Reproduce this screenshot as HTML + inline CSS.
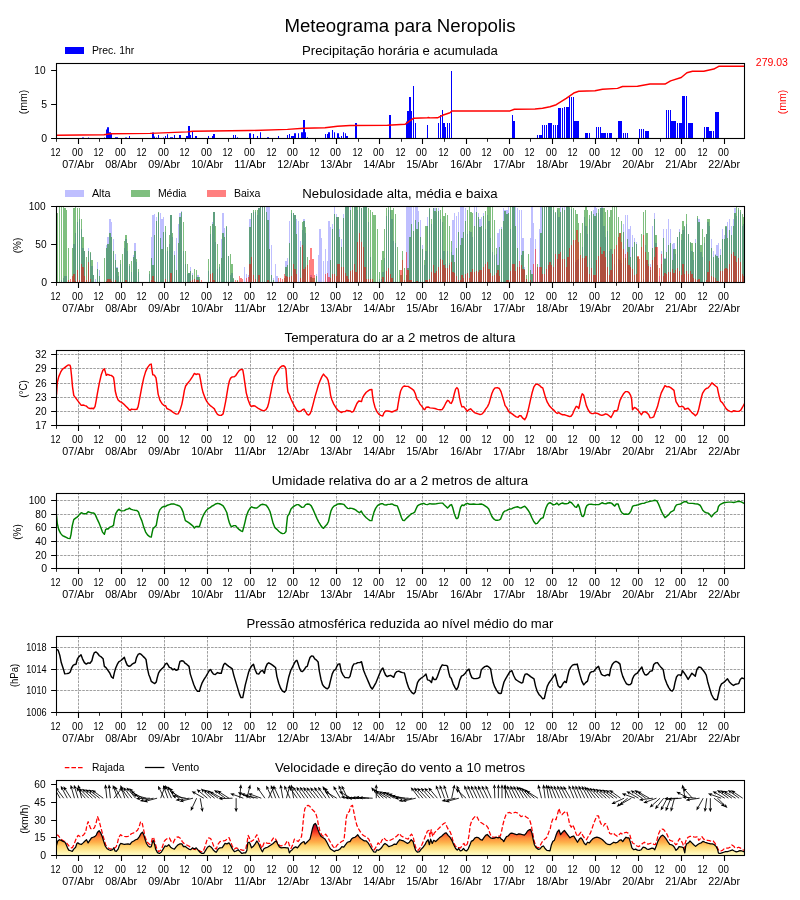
<!DOCTYPE html>
<html><head><meta charset="utf-8"><title>Meteograma para Neropolis</title>
<style>html,body{margin:0;padding:0;background:#fff}svg{display:block;will-change:transform}text{font-family:"Liberation Sans",sans-serif;white-space:pre}</style>
</head><body>
<svg width="800" height="900" viewBox="0 0 800 900">
<rect width="800" height="900" fill="#fff"/>
<defs>
<linearGradient id="wg" gradientUnits="userSpaceOnUse" x1="0" y1="855.5" x2="0" y2="820.6">
<stop offset="0" stop-color="#ffffcc"/>
<stop offset="0.125" stop-color="#ffeda0"/>
<stop offset="0.25" stop-color="#fed976"/>
<stop offset="0.375" stop-color="#feb24c"/>
<stop offset="0.5" stop-color="#fd8d3c"/>
<stop offset="0.625" stop-color="#fc4e2a"/>
<stop offset="0.75" stop-color="#e31a1c"/>
<stop offset="0.875" stop-color="#bd0026"/>
<stop offset="1" stop-color="#800026"/>
</linearGradient>
<clipPath id="c0"><rect x="56.5" y="63.5" width="688" height="75"/></clipPath>
<clipPath id="c1"><rect x="56.5" y="206.5" width="688" height="76"/></clipPath>
<clipPath id="c2"><rect x="56.5" y="350.5" width="688" height="75"/></clipPath>
<clipPath id="c3"><rect x="56.5" y="493.5" width="688" height="75"/></clipPath>
<clipPath id="c4"><rect x="56.5" y="636.5" width="688" height="76"/></clipPath>
<clipPath id="c5"><rect x="56.5" y="780.5" width="688" height="75"/></clipPath>
</defs>
<text x="284.41" y="31.6" font-size="17.5" fill="#000" textLength="231.18" lengthAdjust="spacingAndGlyphs">Meteograma para Neropolis</text>
<text x="302.1" y="54.5" font-size="12.24" fill="#000" textLength="195.77" lengthAdjust="spacingAndGlyphs">Precipitação horária e acumulada</text>
<text x="302.27" y="197.5" font-size="12.24" fill="#000" textLength="195.43" lengthAdjust="spacingAndGlyphs">Nebulosidade alta, média e baixa</text>
<text x="284.55" y="341.5" font-size="12.24" fill="#000" textLength="230.81" lengthAdjust="spacingAndGlyphs">Temperatura do ar a 2 metros de altura</text>
<text x="271.69" y="484.5" font-size="12.24" fill="#000" textLength="256.58" lengthAdjust="spacingAndGlyphs">Umidade relativa do ar a 2 metros de altura</text>
<text x="246.58" y="627.5" font-size="12.24" fill="#000" textLength="306.88" lengthAdjust="spacingAndGlyphs">Pressão atmosférica reduzida ao nível médio do mar</text>
<text x="274.95" y="771.5" font-size="12.24" fill="#000" textLength="250.11" lengthAdjust="spacingAndGlyphs">Velocidade e direção do vento a 10 metros</text>
<path d="M78.5 138.5v5.4M121.5 138.5v5.4M164.5 138.5v5.4M207.5 138.5v5.4M250.5 138.5v5.4M293.5 138.5v5.4M336.5 138.5v5.4M379.5 138.5v5.4M422.5 138.5v5.4M466.5 138.5v5.4M509.5 138.5v5.4M552.5 138.5v5.4M595.5 138.5v5.4M638.5 138.5v5.4M681.5 138.5v5.4M724.5 138.5v5.4" stroke="#000" stroke-width="1.1" fill="none"/>
<path d="M56.5 138.5v3.3M99.5 138.5v3.3M142.5 138.5v3.3M185.5 138.5v3.3M228.5 138.5v3.3M272.5 138.5v3.3M315.5 138.5v3.3M358.5 138.5v3.3M401.5 138.5v3.3M444.5 138.5v3.3M487.5 138.5v3.3M530.5 138.5v3.3M573.5 138.5v3.3M616.5 138.5v3.3M660.5 138.5v3.3M703.5 138.5v3.3" stroke="#000" stroke-width="0.85" fill="none"/>
<g>
<text x="50.47" y="155.9" font-size="10.22" fill="#000" textLength="10.06" lengthAdjust="spacingAndGlyphs">12</text>
<text x="71.97" y="155.9" font-size="10.22" fill="#000" textLength="10.85" lengthAdjust="spacingAndGlyphs">00</text>
<text x="62.35" y="167.8" font-size="10.12" fill="#000" textLength="31.7" lengthAdjust="spacingAndGlyphs">07/Abr</text>
<text x="93.47" y="155.9" font-size="10.22" fill="#000" textLength="10.06" lengthAdjust="spacingAndGlyphs">12</text>
<text x="114.97" y="155.9" font-size="10.22" fill="#000" textLength="10.85" lengthAdjust="spacingAndGlyphs">00</text>
<text x="105.35" y="167.8" font-size="10.12" fill="#000" textLength="31.7" lengthAdjust="spacingAndGlyphs">08/Abr</text>
<text x="136.47" y="155.9" font-size="10.22" fill="#000" textLength="10.06" lengthAdjust="spacingAndGlyphs">12</text>
<text x="157.97" y="155.9" font-size="10.22" fill="#000" textLength="10.85" lengthAdjust="spacingAndGlyphs">00</text>
<text x="148.35" y="167.8" font-size="10.12" fill="#000" textLength="31.7" lengthAdjust="spacingAndGlyphs">09/Abr</text>
<text x="179.47" y="155.9" font-size="10.22" fill="#000" textLength="10.06" lengthAdjust="spacingAndGlyphs">12</text>
<text x="200.97" y="155.9" font-size="10.22" fill="#000" textLength="10.85" lengthAdjust="spacingAndGlyphs">00</text>
<text x="191.35" y="167.8" font-size="10.12" fill="#000" textLength="31.7" lengthAdjust="spacingAndGlyphs">10/Abr</text>
<text x="222.47" y="155.9" font-size="10.22" fill="#000" textLength="10.06" lengthAdjust="spacingAndGlyphs">12</text>
<text x="243.97" y="155.9" font-size="10.22" fill="#000" textLength="10.85" lengthAdjust="spacingAndGlyphs">00</text>
<text x="234.35" y="167.8" font-size="10.12" fill="#000" textLength="31.71" lengthAdjust="spacingAndGlyphs">11/Abr</text>
<text x="266.47" y="155.9" font-size="10.22" fill="#000" textLength="10.06" lengthAdjust="spacingAndGlyphs">12</text>
<text x="286.97" y="155.9" font-size="10.22" fill="#000" textLength="10.85" lengthAdjust="spacingAndGlyphs">00</text>
<text x="277.35" y="167.8" font-size="10.12" fill="#000" textLength="31.7" lengthAdjust="spacingAndGlyphs">12/Abr</text>
<text x="309.47" y="155.9" font-size="10.22" fill="#000" textLength="10.06" lengthAdjust="spacingAndGlyphs">12</text>
<text x="329.97" y="155.9" font-size="10.22" fill="#000" textLength="10.85" lengthAdjust="spacingAndGlyphs">00</text>
<text x="320.35" y="167.8" font-size="10.12" fill="#000" textLength="31.7" lengthAdjust="spacingAndGlyphs">13/Abr</text>
<text x="352.47" y="155.9" font-size="10.22" fill="#000" textLength="10.06" lengthAdjust="spacingAndGlyphs">12</text>
<text x="372.97" y="155.9" font-size="10.22" fill="#000" textLength="10.85" lengthAdjust="spacingAndGlyphs">00</text>
<text x="363.35" y="167.8" font-size="10.12" fill="#000" textLength="31.7" lengthAdjust="spacingAndGlyphs">14/Abr</text>
<text x="395.47" y="155.9" font-size="10.22" fill="#000" textLength="10.06" lengthAdjust="spacingAndGlyphs">12</text>
<text x="415.97" y="155.9" font-size="10.22" fill="#000" textLength="10.85" lengthAdjust="spacingAndGlyphs">00</text>
<text x="406.35" y="167.8" font-size="10.12" fill="#000" textLength="31.7" lengthAdjust="spacingAndGlyphs">15/Abr</text>
<text x="438.47" y="155.9" font-size="10.22" fill="#000" textLength="10.06" lengthAdjust="spacingAndGlyphs">12</text>
<text x="459.97" y="155.9" font-size="10.22" fill="#000" textLength="10.85" lengthAdjust="spacingAndGlyphs">00</text>
<text x="450.35" y="167.8" font-size="10.12" fill="#000" textLength="31.7" lengthAdjust="spacingAndGlyphs">16/Abr</text>
<text x="481.47" y="155.9" font-size="10.22" fill="#000" textLength="10.06" lengthAdjust="spacingAndGlyphs">12</text>
<text x="502.97" y="155.9" font-size="10.22" fill="#000" textLength="10.85" lengthAdjust="spacingAndGlyphs">00</text>
<text x="493.35" y="167.8" font-size="10.12" fill="#000" textLength="31.7" lengthAdjust="spacingAndGlyphs">17/Abr</text>
<text x="524.47" y="155.9" font-size="10.22" fill="#000" textLength="10.06" lengthAdjust="spacingAndGlyphs">12</text>
<text x="545.97" y="155.9" font-size="10.22" fill="#000" textLength="10.85" lengthAdjust="spacingAndGlyphs">00</text>
<text x="536.35" y="167.8" font-size="10.12" fill="#000" textLength="31.7" lengthAdjust="spacingAndGlyphs">18/Abr</text>
<text x="567.47" y="155.9" font-size="10.22" fill="#000" textLength="10.06" lengthAdjust="spacingAndGlyphs">12</text>
<text x="588.97" y="155.9" font-size="10.22" fill="#000" textLength="10.85" lengthAdjust="spacingAndGlyphs">00</text>
<text x="579.35" y="167.8" font-size="10.12" fill="#000" textLength="31.7" lengthAdjust="spacingAndGlyphs">19/Abr</text>
<text x="610.47" y="155.9" font-size="10.22" fill="#000" textLength="10.06" lengthAdjust="spacingAndGlyphs">12</text>
<text x="631.97" y="155.9" font-size="10.22" fill="#000" textLength="10.85" lengthAdjust="spacingAndGlyphs">00</text>
<text x="622.35" y="167.8" font-size="10.12" fill="#000" textLength="31.7" lengthAdjust="spacingAndGlyphs">20/Abr</text>
<text x="654.47" y="155.9" font-size="10.22" fill="#000" textLength="10.06" lengthAdjust="spacingAndGlyphs">12</text>
<text x="674.97" y="155.9" font-size="10.22" fill="#000" textLength="10.85" lengthAdjust="spacingAndGlyphs">00</text>
<text x="665.35" y="167.8" font-size="10.12" fill="#000" textLength="31.7" lengthAdjust="spacingAndGlyphs">21/Abr</text>
<text x="697.47" y="155.9" font-size="10.22" fill="#000" textLength="10.06" lengthAdjust="spacingAndGlyphs">12</text>
<text x="717.97" y="155.9" font-size="10.22" fill="#000" textLength="10.85" lengthAdjust="spacingAndGlyphs">00</text>
<text x="708.35" y="167.8" font-size="10.12" fill="#000" textLength="31.7" lengthAdjust="spacingAndGlyphs">22/Abr</text>
</g>
<path d="M78.5 282.5v5.4M121.5 282.5v5.4M164.5 282.5v5.4M207.5 282.5v5.4M250.5 282.5v5.4M293.5 282.5v5.4M336.5 282.5v5.4M379.5 282.5v5.4M422.5 282.5v5.4M466.5 282.5v5.4M509.5 282.5v5.4M552.5 282.5v5.4M595.5 282.5v5.4M638.5 282.5v5.4M681.5 282.5v5.4M724.5 282.5v5.4" stroke="#000" stroke-width="1.1" fill="none"/>
<path d="M56.5 282.5v3.3M99.5 282.5v3.3M142.5 282.5v3.3M185.5 282.5v3.3M228.5 282.5v3.3M272.5 282.5v3.3M315.5 282.5v3.3M358.5 282.5v3.3M401.5 282.5v3.3M444.5 282.5v3.3M487.5 282.5v3.3M530.5 282.5v3.3M573.5 282.5v3.3M616.5 282.5v3.3M660.5 282.5v3.3M703.5 282.5v3.3" stroke="#000" stroke-width="0.85" fill="none"/>
<g>
<text x="50.47" y="299.9" font-size="10.22" fill="#000" textLength="10.06" lengthAdjust="spacingAndGlyphs">12</text>
<text x="71.97" y="299.9" font-size="10.22" fill="#000" textLength="10.85" lengthAdjust="spacingAndGlyphs">00</text>
<text x="62.35" y="311.8" font-size="10.12" fill="#000" textLength="31.7" lengthAdjust="spacingAndGlyphs">07/Abr</text>
<text x="93.47" y="299.9" font-size="10.22" fill="#000" textLength="10.06" lengthAdjust="spacingAndGlyphs">12</text>
<text x="114.97" y="299.9" font-size="10.22" fill="#000" textLength="10.85" lengthAdjust="spacingAndGlyphs">00</text>
<text x="105.35" y="311.8" font-size="10.12" fill="#000" textLength="31.7" lengthAdjust="spacingAndGlyphs">08/Abr</text>
<text x="136.47" y="299.9" font-size="10.22" fill="#000" textLength="10.06" lengthAdjust="spacingAndGlyphs">12</text>
<text x="157.97" y="299.9" font-size="10.22" fill="#000" textLength="10.85" lengthAdjust="spacingAndGlyphs">00</text>
<text x="148.35" y="311.8" font-size="10.12" fill="#000" textLength="31.7" lengthAdjust="spacingAndGlyphs">09/Abr</text>
<text x="179.47" y="299.9" font-size="10.22" fill="#000" textLength="10.06" lengthAdjust="spacingAndGlyphs">12</text>
<text x="200.97" y="299.9" font-size="10.22" fill="#000" textLength="10.85" lengthAdjust="spacingAndGlyphs">00</text>
<text x="191.35" y="311.8" font-size="10.12" fill="#000" textLength="31.7" lengthAdjust="spacingAndGlyphs">10/Abr</text>
<text x="222.47" y="299.9" font-size="10.22" fill="#000" textLength="10.06" lengthAdjust="spacingAndGlyphs">12</text>
<text x="243.97" y="299.9" font-size="10.22" fill="#000" textLength="10.85" lengthAdjust="spacingAndGlyphs">00</text>
<text x="234.35" y="311.8" font-size="10.12" fill="#000" textLength="31.71" lengthAdjust="spacingAndGlyphs">11/Abr</text>
<text x="266.47" y="299.9" font-size="10.22" fill="#000" textLength="10.06" lengthAdjust="spacingAndGlyphs">12</text>
<text x="286.97" y="299.9" font-size="10.22" fill="#000" textLength="10.85" lengthAdjust="spacingAndGlyphs">00</text>
<text x="277.35" y="311.8" font-size="10.12" fill="#000" textLength="31.7" lengthAdjust="spacingAndGlyphs">12/Abr</text>
<text x="309.47" y="299.9" font-size="10.22" fill="#000" textLength="10.06" lengthAdjust="spacingAndGlyphs">12</text>
<text x="329.97" y="299.9" font-size="10.22" fill="#000" textLength="10.85" lengthAdjust="spacingAndGlyphs">00</text>
<text x="320.35" y="311.8" font-size="10.12" fill="#000" textLength="31.7" lengthAdjust="spacingAndGlyphs">13/Abr</text>
<text x="352.47" y="299.9" font-size="10.22" fill="#000" textLength="10.06" lengthAdjust="spacingAndGlyphs">12</text>
<text x="372.97" y="299.9" font-size="10.22" fill="#000" textLength="10.85" lengthAdjust="spacingAndGlyphs">00</text>
<text x="363.35" y="311.8" font-size="10.12" fill="#000" textLength="31.7" lengthAdjust="spacingAndGlyphs">14/Abr</text>
<text x="395.47" y="299.9" font-size="10.22" fill="#000" textLength="10.06" lengthAdjust="spacingAndGlyphs">12</text>
<text x="415.97" y="299.9" font-size="10.22" fill="#000" textLength="10.85" lengthAdjust="spacingAndGlyphs">00</text>
<text x="406.35" y="311.8" font-size="10.12" fill="#000" textLength="31.7" lengthAdjust="spacingAndGlyphs">15/Abr</text>
<text x="438.47" y="299.9" font-size="10.22" fill="#000" textLength="10.06" lengthAdjust="spacingAndGlyphs">12</text>
<text x="459.97" y="299.9" font-size="10.22" fill="#000" textLength="10.85" lengthAdjust="spacingAndGlyphs">00</text>
<text x="450.35" y="311.8" font-size="10.12" fill="#000" textLength="31.7" lengthAdjust="spacingAndGlyphs">16/Abr</text>
<text x="481.47" y="299.9" font-size="10.22" fill="#000" textLength="10.06" lengthAdjust="spacingAndGlyphs">12</text>
<text x="502.97" y="299.9" font-size="10.22" fill="#000" textLength="10.85" lengthAdjust="spacingAndGlyphs">00</text>
<text x="493.35" y="311.8" font-size="10.12" fill="#000" textLength="31.7" lengthAdjust="spacingAndGlyphs">17/Abr</text>
<text x="524.47" y="299.9" font-size="10.22" fill="#000" textLength="10.06" lengthAdjust="spacingAndGlyphs">12</text>
<text x="545.97" y="299.9" font-size="10.22" fill="#000" textLength="10.85" lengthAdjust="spacingAndGlyphs">00</text>
<text x="536.35" y="311.8" font-size="10.12" fill="#000" textLength="31.7" lengthAdjust="spacingAndGlyphs">18/Abr</text>
<text x="567.47" y="299.9" font-size="10.22" fill="#000" textLength="10.06" lengthAdjust="spacingAndGlyphs">12</text>
<text x="588.97" y="299.9" font-size="10.22" fill="#000" textLength="10.85" lengthAdjust="spacingAndGlyphs">00</text>
<text x="579.35" y="311.8" font-size="10.12" fill="#000" textLength="31.7" lengthAdjust="spacingAndGlyphs">19/Abr</text>
<text x="610.47" y="299.9" font-size="10.22" fill="#000" textLength="10.06" lengthAdjust="spacingAndGlyphs">12</text>
<text x="631.97" y="299.9" font-size="10.22" fill="#000" textLength="10.85" lengthAdjust="spacingAndGlyphs">00</text>
<text x="622.35" y="311.8" font-size="10.12" fill="#000" textLength="31.7" lengthAdjust="spacingAndGlyphs">20/Abr</text>
<text x="654.47" y="299.9" font-size="10.22" fill="#000" textLength="10.06" lengthAdjust="spacingAndGlyphs">12</text>
<text x="674.97" y="299.9" font-size="10.22" fill="#000" textLength="10.85" lengthAdjust="spacingAndGlyphs">00</text>
<text x="665.35" y="311.8" font-size="10.12" fill="#000" textLength="31.7" lengthAdjust="spacingAndGlyphs">21/Abr</text>
<text x="697.47" y="299.9" font-size="10.22" fill="#000" textLength="10.06" lengthAdjust="spacingAndGlyphs">12</text>
<text x="717.97" y="299.9" font-size="10.22" fill="#000" textLength="10.85" lengthAdjust="spacingAndGlyphs">00</text>
<text x="708.35" y="311.8" font-size="10.12" fill="#000" textLength="31.7" lengthAdjust="spacingAndGlyphs">22/Abr</text>
</g>
<path d="M78.5 425.5v5.4M121.5 425.5v5.4M164.5 425.5v5.4M207.5 425.5v5.4M250.5 425.5v5.4M293.5 425.5v5.4M336.5 425.5v5.4M379.5 425.5v5.4M422.5 425.5v5.4M466.5 425.5v5.4M509.5 425.5v5.4M552.5 425.5v5.4M595.5 425.5v5.4M638.5 425.5v5.4M681.5 425.5v5.4M724.5 425.5v5.4" stroke="#000" stroke-width="1.1" fill="none"/>
<path d="M56.5 425.5v3.3M99.5 425.5v3.3M142.5 425.5v3.3M185.5 425.5v3.3M228.5 425.5v3.3M272.5 425.5v3.3M315.5 425.5v3.3M358.5 425.5v3.3M401.5 425.5v3.3M444.5 425.5v3.3M487.5 425.5v3.3M530.5 425.5v3.3M573.5 425.5v3.3M616.5 425.5v3.3M660.5 425.5v3.3M703.5 425.5v3.3" stroke="#000" stroke-width="0.85" fill="none"/>
<g>
<text x="50.47" y="442.9" font-size="10.22" fill="#000" textLength="10.06" lengthAdjust="spacingAndGlyphs">12</text>
<text x="71.97" y="442.9" font-size="10.22" fill="#000" textLength="10.85" lengthAdjust="spacingAndGlyphs">00</text>
<text x="62.35" y="454.8" font-size="10.12" fill="#000" textLength="31.7" lengthAdjust="spacingAndGlyphs">07/Abr</text>
<text x="93.47" y="442.9" font-size="10.22" fill="#000" textLength="10.06" lengthAdjust="spacingAndGlyphs">12</text>
<text x="114.97" y="442.9" font-size="10.22" fill="#000" textLength="10.85" lengthAdjust="spacingAndGlyphs">00</text>
<text x="105.35" y="454.8" font-size="10.12" fill="#000" textLength="31.7" lengthAdjust="spacingAndGlyphs">08/Abr</text>
<text x="136.47" y="442.9" font-size="10.22" fill="#000" textLength="10.06" lengthAdjust="spacingAndGlyphs">12</text>
<text x="157.97" y="442.9" font-size="10.22" fill="#000" textLength="10.85" lengthAdjust="spacingAndGlyphs">00</text>
<text x="148.35" y="454.8" font-size="10.12" fill="#000" textLength="31.7" lengthAdjust="spacingAndGlyphs">09/Abr</text>
<text x="179.47" y="442.9" font-size="10.22" fill="#000" textLength="10.06" lengthAdjust="spacingAndGlyphs">12</text>
<text x="200.97" y="442.9" font-size="10.22" fill="#000" textLength="10.85" lengthAdjust="spacingAndGlyphs">00</text>
<text x="191.35" y="454.8" font-size="10.12" fill="#000" textLength="31.7" lengthAdjust="spacingAndGlyphs">10/Abr</text>
<text x="222.47" y="442.9" font-size="10.22" fill="#000" textLength="10.06" lengthAdjust="spacingAndGlyphs">12</text>
<text x="243.97" y="442.9" font-size="10.22" fill="#000" textLength="10.85" lengthAdjust="spacingAndGlyphs">00</text>
<text x="234.35" y="454.8" font-size="10.12" fill="#000" textLength="31.71" lengthAdjust="spacingAndGlyphs">11/Abr</text>
<text x="266.47" y="442.9" font-size="10.22" fill="#000" textLength="10.06" lengthAdjust="spacingAndGlyphs">12</text>
<text x="286.97" y="442.9" font-size="10.22" fill="#000" textLength="10.85" lengthAdjust="spacingAndGlyphs">00</text>
<text x="277.35" y="454.8" font-size="10.12" fill="#000" textLength="31.7" lengthAdjust="spacingAndGlyphs">12/Abr</text>
<text x="309.47" y="442.9" font-size="10.22" fill="#000" textLength="10.06" lengthAdjust="spacingAndGlyphs">12</text>
<text x="329.97" y="442.9" font-size="10.22" fill="#000" textLength="10.85" lengthAdjust="spacingAndGlyphs">00</text>
<text x="320.35" y="454.8" font-size="10.12" fill="#000" textLength="31.7" lengthAdjust="spacingAndGlyphs">13/Abr</text>
<text x="352.47" y="442.9" font-size="10.22" fill="#000" textLength="10.06" lengthAdjust="spacingAndGlyphs">12</text>
<text x="372.97" y="442.9" font-size="10.22" fill="#000" textLength="10.85" lengthAdjust="spacingAndGlyphs">00</text>
<text x="363.35" y="454.8" font-size="10.12" fill="#000" textLength="31.7" lengthAdjust="spacingAndGlyphs">14/Abr</text>
<text x="395.47" y="442.9" font-size="10.22" fill="#000" textLength="10.06" lengthAdjust="spacingAndGlyphs">12</text>
<text x="415.97" y="442.9" font-size="10.22" fill="#000" textLength="10.85" lengthAdjust="spacingAndGlyphs">00</text>
<text x="406.35" y="454.8" font-size="10.12" fill="#000" textLength="31.7" lengthAdjust="spacingAndGlyphs">15/Abr</text>
<text x="438.47" y="442.9" font-size="10.22" fill="#000" textLength="10.06" lengthAdjust="spacingAndGlyphs">12</text>
<text x="459.97" y="442.9" font-size="10.22" fill="#000" textLength="10.85" lengthAdjust="spacingAndGlyphs">00</text>
<text x="450.35" y="454.8" font-size="10.12" fill="#000" textLength="31.7" lengthAdjust="spacingAndGlyphs">16/Abr</text>
<text x="481.47" y="442.9" font-size="10.22" fill="#000" textLength="10.06" lengthAdjust="spacingAndGlyphs">12</text>
<text x="502.97" y="442.9" font-size="10.22" fill="#000" textLength="10.85" lengthAdjust="spacingAndGlyphs">00</text>
<text x="493.35" y="454.8" font-size="10.12" fill="#000" textLength="31.7" lengthAdjust="spacingAndGlyphs">17/Abr</text>
<text x="524.47" y="442.9" font-size="10.22" fill="#000" textLength="10.06" lengthAdjust="spacingAndGlyphs">12</text>
<text x="545.97" y="442.9" font-size="10.22" fill="#000" textLength="10.85" lengthAdjust="spacingAndGlyphs">00</text>
<text x="536.35" y="454.8" font-size="10.12" fill="#000" textLength="31.7" lengthAdjust="spacingAndGlyphs">18/Abr</text>
<text x="567.47" y="442.9" font-size="10.22" fill="#000" textLength="10.06" lengthAdjust="spacingAndGlyphs">12</text>
<text x="588.97" y="442.9" font-size="10.22" fill="#000" textLength="10.85" lengthAdjust="spacingAndGlyphs">00</text>
<text x="579.35" y="454.8" font-size="10.12" fill="#000" textLength="31.7" lengthAdjust="spacingAndGlyphs">19/Abr</text>
<text x="610.47" y="442.9" font-size="10.22" fill="#000" textLength="10.06" lengthAdjust="spacingAndGlyphs">12</text>
<text x="631.97" y="442.9" font-size="10.22" fill="#000" textLength="10.85" lengthAdjust="spacingAndGlyphs">00</text>
<text x="622.35" y="454.8" font-size="10.12" fill="#000" textLength="31.7" lengthAdjust="spacingAndGlyphs">20/Abr</text>
<text x="654.47" y="442.9" font-size="10.22" fill="#000" textLength="10.06" lengthAdjust="spacingAndGlyphs">12</text>
<text x="674.97" y="442.9" font-size="10.22" fill="#000" textLength="10.85" lengthAdjust="spacingAndGlyphs">00</text>
<text x="665.35" y="454.8" font-size="10.12" fill="#000" textLength="31.7" lengthAdjust="spacingAndGlyphs">21/Abr</text>
<text x="697.47" y="442.9" font-size="10.22" fill="#000" textLength="10.06" lengthAdjust="spacingAndGlyphs">12</text>
<text x="717.97" y="442.9" font-size="10.22" fill="#000" textLength="10.85" lengthAdjust="spacingAndGlyphs">00</text>
<text x="708.35" y="454.8" font-size="10.12" fill="#000" textLength="31.7" lengthAdjust="spacingAndGlyphs">22/Abr</text>
</g>
<path d="M78.5 568.5v5.4M121.5 568.5v5.4M164.5 568.5v5.4M207.5 568.5v5.4M250.5 568.5v5.4M293.5 568.5v5.4M336.5 568.5v5.4M379.5 568.5v5.4M422.5 568.5v5.4M466.5 568.5v5.4M509.5 568.5v5.4M552.5 568.5v5.4M595.5 568.5v5.4M638.5 568.5v5.4M681.5 568.5v5.4M724.5 568.5v5.4" stroke="#000" stroke-width="1.1" fill="none"/>
<path d="M56.5 568.5v3.3M99.5 568.5v3.3M142.5 568.5v3.3M185.5 568.5v3.3M228.5 568.5v3.3M272.5 568.5v3.3M315.5 568.5v3.3M358.5 568.5v3.3M401.5 568.5v3.3M444.5 568.5v3.3M487.5 568.5v3.3M530.5 568.5v3.3M573.5 568.5v3.3M616.5 568.5v3.3M660.5 568.5v3.3M703.5 568.5v3.3" stroke="#000" stroke-width="0.85" fill="none"/>
<g>
<text x="50.47" y="585.9" font-size="10.22" fill="#000" textLength="10.06" lengthAdjust="spacingAndGlyphs">12</text>
<text x="71.97" y="585.9" font-size="10.22" fill="#000" textLength="10.85" lengthAdjust="spacingAndGlyphs">00</text>
<text x="62.35" y="597.8" font-size="10.12" fill="#000" textLength="31.7" lengthAdjust="spacingAndGlyphs">07/Abr</text>
<text x="93.47" y="585.9" font-size="10.22" fill="#000" textLength="10.06" lengthAdjust="spacingAndGlyphs">12</text>
<text x="114.97" y="585.9" font-size="10.22" fill="#000" textLength="10.85" lengthAdjust="spacingAndGlyphs">00</text>
<text x="105.35" y="597.8" font-size="10.12" fill="#000" textLength="31.7" lengthAdjust="spacingAndGlyphs">08/Abr</text>
<text x="136.47" y="585.9" font-size="10.22" fill="#000" textLength="10.06" lengthAdjust="spacingAndGlyphs">12</text>
<text x="157.97" y="585.9" font-size="10.22" fill="#000" textLength="10.85" lengthAdjust="spacingAndGlyphs">00</text>
<text x="148.35" y="597.8" font-size="10.12" fill="#000" textLength="31.7" lengthAdjust="spacingAndGlyphs">09/Abr</text>
<text x="179.47" y="585.9" font-size="10.22" fill="#000" textLength="10.06" lengthAdjust="spacingAndGlyphs">12</text>
<text x="200.97" y="585.9" font-size="10.22" fill="#000" textLength="10.85" lengthAdjust="spacingAndGlyphs">00</text>
<text x="191.35" y="597.8" font-size="10.12" fill="#000" textLength="31.7" lengthAdjust="spacingAndGlyphs">10/Abr</text>
<text x="222.47" y="585.9" font-size="10.22" fill="#000" textLength="10.06" lengthAdjust="spacingAndGlyphs">12</text>
<text x="243.97" y="585.9" font-size="10.22" fill="#000" textLength="10.85" lengthAdjust="spacingAndGlyphs">00</text>
<text x="234.35" y="597.8" font-size="10.12" fill="#000" textLength="31.71" lengthAdjust="spacingAndGlyphs">11/Abr</text>
<text x="266.47" y="585.9" font-size="10.22" fill="#000" textLength="10.06" lengthAdjust="spacingAndGlyphs">12</text>
<text x="286.97" y="585.9" font-size="10.22" fill="#000" textLength="10.85" lengthAdjust="spacingAndGlyphs">00</text>
<text x="277.35" y="597.8" font-size="10.12" fill="#000" textLength="31.7" lengthAdjust="spacingAndGlyphs">12/Abr</text>
<text x="309.47" y="585.9" font-size="10.22" fill="#000" textLength="10.06" lengthAdjust="spacingAndGlyphs">12</text>
<text x="329.97" y="585.9" font-size="10.22" fill="#000" textLength="10.85" lengthAdjust="spacingAndGlyphs">00</text>
<text x="320.35" y="597.8" font-size="10.12" fill="#000" textLength="31.7" lengthAdjust="spacingAndGlyphs">13/Abr</text>
<text x="352.47" y="585.9" font-size="10.22" fill="#000" textLength="10.06" lengthAdjust="spacingAndGlyphs">12</text>
<text x="372.97" y="585.9" font-size="10.22" fill="#000" textLength="10.85" lengthAdjust="spacingAndGlyphs">00</text>
<text x="363.35" y="597.8" font-size="10.12" fill="#000" textLength="31.7" lengthAdjust="spacingAndGlyphs">14/Abr</text>
<text x="395.47" y="585.9" font-size="10.22" fill="#000" textLength="10.06" lengthAdjust="spacingAndGlyphs">12</text>
<text x="415.97" y="585.9" font-size="10.22" fill="#000" textLength="10.85" lengthAdjust="spacingAndGlyphs">00</text>
<text x="406.35" y="597.8" font-size="10.12" fill="#000" textLength="31.7" lengthAdjust="spacingAndGlyphs">15/Abr</text>
<text x="438.47" y="585.9" font-size="10.22" fill="#000" textLength="10.06" lengthAdjust="spacingAndGlyphs">12</text>
<text x="459.97" y="585.9" font-size="10.22" fill="#000" textLength="10.85" lengthAdjust="spacingAndGlyphs">00</text>
<text x="450.35" y="597.8" font-size="10.12" fill="#000" textLength="31.7" lengthAdjust="spacingAndGlyphs">16/Abr</text>
<text x="481.47" y="585.9" font-size="10.22" fill="#000" textLength="10.06" lengthAdjust="spacingAndGlyphs">12</text>
<text x="502.97" y="585.9" font-size="10.22" fill="#000" textLength="10.85" lengthAdjust="spacingAndGlyphs">00</text>
<text x="493.35" y="597.8" font-size="10.12" fill="#000" textLength="31.7" lengthAdjust="spacingAndGlyphs">17/Abr</text>
<text x="524.47" y="585.9" font-size="10.22" fill="#000" textLength="10.06" lengthAdjust="spacingAndGlyphs">12</text>
<text x="545.97" y="585.9" font-size="10.22" fill="#000" textLength="10.85" lengthAdjust="spacingAndGlyphs">00</text>
<text x="536.35" y="597.8" font-size="10.12" fill="#000" textLength="31.7" lengthAdjust="spacingAndGlyphs">18/Abr</text>
<text x="567.47" y="585.9" font-size="10.22" fill="#000" textLength="10.06" lengthAdjust="spacingAndGlyphs">12</text>
<text x="588.97" y="585.9" font-size="10.22" fill="#000" textLength="10.85" lengthAdjust="spacingAndGlyphs">00</text>
<text x="579.35" y="597.8" font-size="10.12" fill="#000" textLength="31.7" lengthAdjust="spacingAndGlyphs">19/Abr</text>
<text x="610.47" y="585.9" font-size="10.22" fill="#000" textLength="10.06" lengthAdjust="spacingAndGlyphs">12</text>
<text x="631.97" y="585.9" font-size="10.22" fill="#000" textLength="10.85" lengthAdjust="spacingAndGlyphs">00</text>
<text x="622.35" y="597.8" font-size="10.12" fill="#000" textLength="31.7" lengthAdjust="spacingAndGlyphs">20/Abr</text>
<text x="654.47" y="585.9" font-size="10.22" fill="#000" textLength="10.06" lengthAdjust="spacingAndGlyphs">12</text>
<text x="674.97" y="585.9" font-size="10.22" fill="#000" textLength="10.85" lengthAdjust="spacingAndGlyphs">00</text>
<text x="665.35" y="597.8" font-size="10.12" fill="#000" textLength="31.7" lengthAdjust="spacingAndGlyphs">21/Abr</text>
<text x="697.47" y="585.9" font-size="10.22" fill="#000" textLength="10.06" lengthAdjust="spacingAndGlyphs">12</text>
<text x="717.97" y="585.9" font-size="10.22" fill="#000" textLength="10.85" lengthAdjust="spacingAndGlyphs">00</text>
<text x="708.35" y="597.8" font-size="10.12" fill="#000" textLength="31.7" lengthAdjust="spacingAndGlyphs">22/Abr</text>
</g>
<path d="M78.5 712.5v5.4M121.5 712.5v5.4M164.5 712.5v5.4M207.5 712.5v5.4M250.5 712.5v5.4M293.5 712.5v5.4M336.5 712.5v5.4M379.5 712.5v5.4M422.5 712.5v5.4M466.5 712.5v5.4M509.5 712.5v5.4M552.5 712.5v5.4M595.5 712.5v5.4M638.5 712.5v5.4M681.5 712.5v5.4M724.5 712.5v5.4" stroke="#000" stroke-width="1.1" fill="none"/>
<path d="M56.5 712.5v3.3M99.5 712.5v3.3M142.5 712.5v3.3M185.5 712.5v3.3M228.5 712.5v3.3M272.5 712.5v3.3M315.5 712.5v3.3M358.5 712.5v3.3M401.5 712.5v3.3M444.5 712.5v3.3M487.5 712.5v3.3M530.5 712.5v3.3M573.5 712.5v3.3M616.5 712.5v3.3M660.5 712.5v3.3M703.5 712.5v3.3" stroke="#000" stroke-width="0.85" fill="none"/>
<g>
<text x="50.47" y="729.9" font-size="10.22" fill="#000" textLength="10.06" lengthAdjust="spacingAndGlyphs">12</text>
<text x="71.97" y="729.9" font-size="10.22" fill="#000" textLength="10.85" lengthAdjust="spacingAndGlyphs">00</text>
<text x="62.35" y="741.8" font-size="10.12" fill="#000" textLength="31.7" lengthAdjust="spacingAndGlyphs">07/Abr</text>
<text x="93.47" y="729.9" font-size="10.22" fill="#000" textLength="10.06" lengthAdjust="spacingAndGlyphs">12</text>
<text x="114.97" y="729.9" font-size="10.22" fill="#000" textLength="10.85" lengthAdjust="spacingAndGlyphs">00</text>
<text x="105.35" y="741.8" font-size="10.12" fill="#000" textLength="31.7" lengthAdjust="spacingAndGlyphs">08/Abr</text>
<text x="136.47" y="729.9" font-size="10.22" fill="#000" textLength="10.06" lengthAdjust="spacingAndGlyphs">12</text>
<text x="157.97" y="729.9" font-size="10.22" fill="#000" textLength="10.85" lengthAdjust="spacingAndGlyphs">00</text>
<text x="148.35" y="741.8" font-size="10.12" fill="#000" textLength="31.7" lengthAdjust="spacingAndGlyphs">09/Abr</text>
<text x="179.47" y="729.9" font-size="10.22" fill="#000" textLength="10.06" lengthAdjust="spacingAndGlyphs">12</text>
<text x="200.97" y="729.9" font-size="10.22" fill="#000" textLength="10.85" lengthAdjust="spacingAndGlyphs">00</text>
<text x="191.35" y="741.8" font-size="10.12" fill="#000" textLength="31.7" lengthAdjust="spacingAndGlyphs">10/Abr</text>
<text x="222.47" y="729.9" font-size="10.22" fill="#000" textLength="10.06" lengthAdjust="spacingAndGlyphs">12</text>
<text x="243.97" y="729.9" font-size="10.22" fill="#000" textLength="10.85" lengthAdjust="spacingAndGlyphs">00</text>
<text x="234.35" y="741.8" font-size="10.12" fill="#000" textLength="31.71" lengthAdjust="spacingAndGlyphs">11/Abr</text>
<text x="266.47" y="729.9" font-size="10.22" fill="#000" textLength="10.06" lengthAdjust="spacingAndGlyphs">12</text>
<text x="286.97" y="729.9" font-size="10.22" fill="#000" textLength="10.85" lengthAdjust="spacingAndGlyphs">00</text>
<text x="277.35" y="741.8" font-size="10.12" fill="#000" textLength="31.7" lengthAdjust="spacingAndGlyphs">12/Abr</text>
<text x="309.47" y="729.9" font-size="10.22" fill="#000" textLength="10.06" lengthAdjust="spacingAndGlyphs">12</text>
<text x="329.97" y="729.9" font-size="10.22" fill="#000" textLength="10.85" lengthAdjust="spacingAndGlyphs">00</text>
<text x="320.35" y="741.8" font-size="10.12" fill="#000" textLength="31.7" lengthAdjust="spacingAndGlyphs">13/Abr</text>
<text x="352.47" y="729.9" font-size="10.22" fill="#000" textLength="10.06" lengthAdjust="spacingAndGlyphs">12</text>
<text x="372.97" y="729.9" font-size="10.22" fill="#000" textLength="10.85" lengthAdjust="spacingAndGlyphs">00</text>
<text x="363.35" y="741.8" font-size="10.12" fill="#000" textLength="31.7" lengthAdjust="spacingAndGlyphs">14/Abr</text>
<text x="395.47" y="729.9" font-size="10.22" fill="#000" textLength="10.06" lengthAdjust="spacingAndGlyphs">12</text>
<text x="415.97" y="729.9" font-size="10.22" fill="#000" textLength="10.85" lengthAdjust="spacingAndGlyphs">00</text>
<text x="406.35" y="741.8" font-size="10.12" fill="#000" textLength="31.7" lengthAdjust="spacingAndGlyphs">15/Abr</text>
<text x="438.47" y="729.9" font-size="10.22" fill="#000" textLength="10.06" lengthAdjust="spacingAndGlyphs">12</text>
<text x="459.97" y="729.9" font-size="10.22" fill="#000" textLength="10.85" lengthAdjust="spacingAndGlyphs">00</text>
<text x="450.35" y="741.8" font-size="10.12" fill="#000" textLength="31.7" lengthAdjust="spacingAndGlyphs">16/Abr</text>
<text x="481.47" y="729.9" font-size="10.22" fill="#000" textLength="10.06" lengthAdjust="spacingAndGlyphs">12</text>
<text x="502.97" y="729.9" font-size="10.22" fill="#000" textLength="10.85" lengthAdjust="spacingAndGlyphs">00</text>
<text x="493.35" y="741.8" font-size="10.12" fill="#000" textLength="31.7" lengthAdjust="spacingAndGlyphs">17/Abr</text>
<text x="524.47" y="729.9" font-size="10.22" fill="#000" textLength="10.06" lengthAdjust="spacingAndGlyphs">12</text>
<text x="545.97" y="729.9" font-size="10.22" fill="#000" textLength="10.85" lengthAdjust="spacingAndGlyphs">00</text>
<text x="536.35" y="741.8" font-size="10.12" fill="#000" textLength="31.7" lengthAdjust="spacingAndGlyphs">18/Abr</text>
<text x="567.47" y="729.9" font-size="10.22" fill="#000" textLength="10.06" lengthAdjust="spacingAndGlyphs">12</text>
<text x="588.97" y="729.9" font-size="10.22" fill="#000" textLength="10.85" lengthAdjust="spacingAndGlyphs">00</text>
<text x="579.35" y="741.8" font-size="10.12" fill="#000" textLength="31.7" lengthAdjust="spacingAndGlyphs">19/Abr</text>
<text x="610.47" y="729.9" font-size="10.22" fill="#000" textLength="10.06" lengthAdjust="spacingAndGlyphs">12</text>
<text x="631.97" y="729.9" font-size="10.22" fill="#000" textLength="10.85" lengthAdjust="spacingAndGlyphs">00</text>
<text x="622.35" y="741.8" font-size="10.12" fill="#000" textLength="31.7" lengthAdjust="spacingAndGlyphs">20/Abr</text>
<text x="654.47" y="729.9" font-size="10.22" fill="#000" textLength="10.06" lengthAdjust="spacingAndGlyphs">12</text>
<text x="674.97" y="729.9" font-size="10.22" fill="#000" textLength="10.85" lengthAdjust="spacingAndGlyphs">00</text>
<text x="665.35" y="741.8" font-size="10.12" fill="#000" textLength="31.7" lengthAdjust="spacingAndGlyphs">21/Abr</text>
<text x="697.47" y="729.9" font-size="10.22" fill="#000" textLength="10.06" lengthAdjust="spacingAndGlyphs">12</text>
<text x="717.97" y="729.9" font-size="10.22" fill="#000" textLength="10.85" lengthAdjust="spacingAndGlyphs">00</text>
<text x="708.35" y="741.8" font-size="10.12" fill="#000" textLength="31.7" lengthAdjust="spacingAndGlyphs">22/Abr</text>
</g>
<path d="M78.5 855.5v5.4M121.5 855.5v5.4M164.5 855.5v5.4M207.5 855.5v5.4M250.5 855.5v5.4M293.5 855.5v5.4M336.5 855.5v5.4M379.5 855.5v5.4M422.5 855.5v5.4M466.5 855.5v5.4M509.5 855.5v5.4M552.5 855.5v5.4M595.5 855.5v5.4M638.5 855.5v5.4M681.5 855.5v5.4M724.5 855.5v5.4" stroke="#000" stroke-width="1.1" fill="none"/>
<path d="M56.5 855.5v3.3M99.5 855.5v3.3M142.5 855.5v3.3M185.5 855.5v3.3M228.5 855.5v3.3M272.5 855.5v3.3M315.5 855.5v3.3M358.5 855.5v3.3M401.5 855.5v3.3M444.5 855.5v3.3M487.5 855.5v3.3M530.5 855.5v3.3M573.5 855.5v3.3M616.5 855.5v3.3M660.5 855.5v3.3M703.5 855.5v3.3" stroke="#000" stroke-width="0.85" fill="none"/>
<g>
<text x="50.47" y="872.9" font-size="10.22" fill="#000" textLength="10.06" lengthAdjust="spacingAndGlyphs">12</text>
<text x="71.97" y="872.9" font-size="10.22" fill="#000" textLength="10.85" lengthAdjust="spacingAndGlyphs">00</text>
<text x="62.35" y="884.8" font-size="10.12" fill="#000" textLength="31.7" lengthAdjust="spacingAndGlyphs">07/Abr</text>
<text x="93.47" y="872.9" font-size="10.22" fill="#000" textLength="10.06" lengthAdjust="spacingAndGlyphs">12</text>
<text x="114.97" y="872.9" font-size="10.22" fill="#000" textLength="10.85" lengthAdjust="spacingAndGlyphs">00</text>
<text x="105.35" y="884.8" font-size="10.12" fill="#000" textLength="31.7" lengthAdjust="spacingAndGlyphs">08/Abr</text>
<text x="136.47" y="872.9" font-size="10.22" fill="#000" textLength="10.06" lengthAdjust="spacingAndGlyphs">12</text>
<text x="157.97" y="872.9" font-size="10.22" fill="#000" textLength="10.85" lengthAdjust="spacingAndGlyphs">00</text>
<text x="148.35" y="884.8" font-size="10.12" fill="#000" textLength="31.7" lengthAdjust="spacingAndGlyphs">09/Abr</text>
<text x="179.47" y="872.9" font-size="10.22" fill="#000" textLength="10.06" lengthAdjust="spacingAndGlyphs">12</text>
<text x="200.97" y="872.9" font-size="10.22" fill="#000" textLength="10.85" lengthAdjust="spacingAndGlyphs">00</text>
<text x="191.35" y="884.8" font-size="10.12" fill="#000" textLength="31.7" lengthAdjust="spacingAndGlyphs">10/Abr</text>
<text x="222.47" y="872.9" font-size="10.22" fill="#000" textLength="10.06" lengthAdjust="spacingAndGlyphs">12</text>
<text x="243.97" y="872.9" font-size="10.22" fill="#000" textLength="10.85" lengthAdjust="spacingAndGlyphs">00</text>
<text x="234.35" y="884.8" font-size="10.12" fill="#000" textLength="31.71" lengthAdjust="spacingAndGlyphs">11/Abr</text>
<text x="266.47" y="872.9" font-size="10.22" fill="#000" textLength="10.06" lengthAdjust="spacingAndGlyphs">12</text>
<text x="286.97" y="872.9" font-size="10.22" fill="#000" textLength="10.85" lengthAdjust="spacingAndGlyphs">00</text>
<text x="277.35" y="884.8" font-size="10.12" fill="#000" textLength="31.7" lengthAdjust="spacingAndGlyphs">12/Abr</text>
<text x="309.47" y="872.9" font-size="10.22" fill="#000" textLength="10.06" lengthAdjust="spacingAndGlyphs">12</text>
<text x="329.97" y="872.9" font-size="10.22" fill="#000" textLength="10.85" lengthAdjust="spacingAndGlyphs">00</text>
<text x="320.35" y="884.8" font-size="10.12" fill="#000" textLength="31.7" lengthAdjust="spacingAndGlyphs">13/Abr</text>
<text x="352.47" y="872.9" font-size="10.22" fill="#000" textLength="10.06" lengthAdjust="spacingAndGlyphs">12</text>
<text x="372.97" y="872.9" font-size="10.22" fill="#000" textLength="10.85" lengthAdjust="spacingAndGlyphs">00</text>
<text x="363.35" y="884.8" font-size="10.12" fill="#000" textLength="31.7" lengthAdjust="spacingAndGlyphs">14/Abr</text>
<text x="395.47" y="872.9" font-size="10.22" fill="#000" textLength="10.06" lengthAdjust="spacingAndGlyphs">12</text>
<text x="415.97" y="872.9" font-size="10.22" fill="#000" textLength="10.85" lengthAdjust="spacingAndGlyphs">00</text>
<text x="406.35" y="884.8" font-size="10.12" fill="#000" textLength="31.7" lengthAdjust="spacingAndGlyphs">15/Abr</text>
<text x="438.47" y="872.9" font-size="10.22" fill="#000" textLength="10.06" lengthAdjust="spacingAndGlyphs">12</text>
<text x="459.97" y="872.9" font-size="10.22" fill="#000" textLength="10.85" lengthAdjust="spacingAndGlyphs">00</text>
<text x="450.35" y="884.8" font-size="10.12" fill="#000" textLength="31.7" lengthAdjust="spacingAndGlyphs">16/Abr</text>
<text x="481.47" y="872.9" font-size="10.22" fill="#000" textLength="10.06" lengthAdjust="spacingAndGlyphs">12</text>
<text x="502.97" y="872.9" font-size="10.22" fill="#000" textLength="10.85" lengthAdjust="spacingAndGlyphs">00</text>
<text x="493.35" y="884.8" font-size="10.12" fill="#000" textLength="31.7" lengthAdjust="spacingAndGlyphs">17/Abr</text>
<text x="524.47" y="872.9" font-size="10.22" fill="#000" textLength="10.06" lengthAdjust="spacingAndGlyphs">12</text>
<text x="545.97" y="872.9" font-size="10.22" fill="#000" textLength="10.85" lengthAdjust="spacingAndGlyphs">00</text>
<text x="536.35" y="884.8" font-size="10.12" fill="#000" textLength="31.7" lengthAdjust="spacingAndGlyphs">18/Abr</text>
<text x="567.47" y="872.9" font-size="10.22" fill="#000" textLength="10.06" lengthAdjust="spacingAndGlyphs">12</text>
<text x="588.97" y="872.9" font-size="10.22" fill="#000" textLength="10.85" lengthAdjust="spacingAndGlyphs">00</text>
<text x="579.35" y="884.8" font-size="10.12" fill="#000" textLength="31.7" lengthAdjust="spacingAndGlyphs">19/Abr</text>
<text x="610.47" y="872.9" font-size="10.22" fill="#000" textLength="10.06" lengthAdjust="spacingAndGlyphs">12</text>
<text x="631.97" y="872.9" font-size="10.22" fill="#000" textLength="10.85" lengthAdjust="spacingAndGlyphs">00</text>
<text x="622.35" y="884.8" font-size="10.12" fill="#000" textLength="31.7" lengthAdjust="spacingAndGlyphs">20/Abr</text>
<text x="654.47" y="872.9" font-size="10.22" fill="#000" textLength="10.06" lengthAdjust="spacingAndGlyphs">12</text>
<text x="674.97" y="872.9" font-size="10.22" fill="#000" textLength="10.85" lengthAdjust="spacingAndGlyphs">00</text>
<text x="665.35" y="884.8" font-size="10.12" fill="#000" textLength="31.7" lengthAdjust="spacingAndGlyphs">21/Abr</text>
<text x="697.47" y="872.9" font-size="10.22" fill="#000" textLength="10.06" lengthAdjust="spacingAndGlyphs">12</text>
<text x="717.97" y="872.9" font-size="10.22" fill="#000" textLength="10.85" lengthAdjust="spacingAndGlyphs">00</text>
<text x="708.35" y="884.8" font-size="10.12" fill="#000" textLength="31.7" lengthAdjust="spacingAndGlyphs">22/Abr</text>
</g>
<path d="M56.5 138.5h-5.4M56.5 104.5h-5.4M56.5 70.5h-5.4" stroke="#000" stroke-width="1.1" fill="none"/>
<text x="41.17" y="142.1" font-size="10.22" fill="#000" textLength="5.85" lengthAdjust="spacingAndGlyphs">0</text>
<text x="41.17" y="108.1" font-size="10.22" fill="#000" textLength="5.85" lengthAdjust="spacingAndGlyphs">5</text>
<text x="34.31" y="74.1" font-size="10.22" fill="#000" textLength="11.28" lengthAdjust="spacingAndGlyphs">10</text>
<g transform="translate(27.2 102) rotate(-90)">
<text x="-12.23" y="0" font-size="10.12" fill="#000" textLength="24.45" lengthAdjust="spacingAndGlyphs">(mm)</text>
</g>
<path d="M56.5 282.5h-5.4M56.5 244.5h-5.4M56.5 206.5h-5.4" stroke="#000" stroke-width="1.1" fill="none"/>
<text x="41.17" y="286.1" font-size="10.22" fill="#000" textLength="5.85" lengthAdjust="spacingAndGlyphs">0</text>
<text x="35.31" y="248.1" font-size="10.22" fill="#000" textLength="11.28" lengthAdjust="spacingAndGlyphs">50</text>
<text x="28.67" y="210.1" font-size="10.22" fill="#000" textLength="16.95" lengthAdjust="spacingAndGlyphs">100</text>
<g transform="translate(20.7 245.5) rotate(-90)">
<text x="-7.76" y="0" font-size="10.12" fill="#000" textLength="15.51" lengthAdjust="spacingAndGlyphs">(%)</text>
</g>
<path d="M56.5 411.5H744.5M56.5 397.5H744.5M56.5 383.5H744.5M56.5 368.5H744.5M56.5 354.5H744.5M78.5 425.5V350.5M121.5 425.5V350.5M164.5 425.5V350.5M207.5 425.5V350.5M250.5 425.5V350.5M293.5 425.5V350.5M336.5 425.5V350.5M379.5 425.5V350.5M422.5 425.5V350.5M466.5 425.5V350.5M509.5 425.5V350.5M552.5 425.5V350.5M595.5 425.5V350.5M638.5 425.5V350.5M681.5 425.5V350.5M724.5 425.5V350.5" stroke="#808080" stroke-width="0.75" stroke-dasharray="2.57 1.11" fill="none"/>
<path d="M56.5 425.5h-5.4M56.5 411.5h-5.4M56.5 397.5h-5.4M56.5 383.5h-5.4M56.5 368.5h-5.4M56.5 354.5h-5.4" stroke="#000" stroke-width="1.1" fill="none"/>
<text x="35.31" y="429.1" font-size="10.22" fill="#000" textLength="11.28" lengthAdjust="spacingAndGlyphs">17</text>
<text x="35.31" y="415.1" font-size="10.22" fill="#000" textLength="11.28" lengthAdjust="spacingAndGlyphs">20</text>
<text x="35.31" y="401.1" font-size="10.22" fill="#000" textLength="11.28" lengthAdjust="spacingAndGlyphs">23</text>
<text x="35.31" y="387.1" font-size="10.22" fill="#000" textLength="11.28" lengthAdjust="spacingAndGlyphs">26</text>
<text x="35.31" y="372.1" font-size="10.22" fill="#000" textLength="11.28" lengthAdjust="spacingAndGlyphs">29</text>
<text x="35.31" y="358.1" font-size="10.22" fill="#000" textLength="11.28" lengthAdjust="spacingAndGlyphs">32</text>
<g transform="translate(26.9 389) rotate(-90)">
<text x="-8.87" y="0" font-size="10.12" fill="#000" textLength="17.73" lengthAdjust="spacingAndGlyphs">(°C)</text>
</g>
<path d="M56.5 555.5H744.5M56.5 541.5H744.5M56.5 527.5H744.5M56.5 514.5H744.5M56.5 500.5H744.5M78.5 568.5V493.5M121.5 568.5V493.5M164.5 568.5V493.5M207.5 568.5V493.5M250.5 568.5V493.5M293.5 568.5V493.5M336.5 568.5V493.5M379.5 568.5V493.5M422.5 568.5V493.5M466.5 568.5V493.5M509.5 568.5V493.5M552.5 568.5V493.5M595.5 568.5V493.5M638.5 568.5V493.5M681.5 568.5V493.5M724.5 568.5V493.5" stroke="#808080" stroke-width="0.75" stroke-dasharray="2.57 1.11" fill="none"/>
<path d="M56.5 568.5h-5.4M56.5 555.5h-5.4M56.5 541.5h-5.4M56.5 527.5h-5.4M56.5 514.5h-5.4M56.5 500.5h-5.4" stroke="#000" stroke-width="1.1" fill="none"/>
<text x="41.17" y="572.1" font-size="10.22" fill="#000" textLength="5.85" lengthAdjust="spacingAndGlyphs">0</text>
<text x="35.31" y="559.1" font-size="10.22" fill="#000" textLength="11.28" lengthAdjust="spacingAndGlyphs">20</text>
<text x="35.31" y="545.1" font-size="10.22" fill="#000" textLength="11.28" lengthAdjust="spacingAndGlyphs">40</text>
<text x="35.31" y="531.1" font-size="10.22" fill="#000" textLength="11.28" lengthAdjust="spacingAndGlyphs">60</text>
<text x="35.31" y="518.1" font-size="10.22" fill="#000" textLength="11.28" lengthAdjust="spacingAndGlyphs">80</text>
<text x="28.67" y="504.1" font-size="10.22" fill="#000" textLength="16.95" lengthAdjust="spacingAndGlyphs">100</text>
<g transform="translate(20.7 532) rotate(-90)">
<text x="-7.76" y="0" font-size="10.12" fill="#000" textLength="15.51" lengthAdjust="spacingAndGlyphs">(%)</text>
</g>
<path d="M56.5 690.5H744.5M56.5 669.5H744.5M56.5 647.5H744.5M78.5 712.5V636.5M121.5 712.5V636.5M164.5 712.5V636.5M207.5 712.5V636.5M250.5 712.5V636.5M293.5 712.5V636.5M336.5 712.5V636.5M379.5 712.5V636.5M422.5 712.5V636.5M466.5 712.5V636.5M509.5 712.5V636.5M552.5 712.5V636.5M595.5 712.5V636.5M638.5 712.5V636.5M681.5 712.5V636.5M724.5 712.5V636.5" stroke="#808080" stroke-width="0.75" stroke-dasharray="2.57 1.11" fill="none"/>
<path d="M56.5 712.5h-5.4M56.5 690.5h-5.4M56.5 669.5h-5.4M56.5 647.5h-5.4" stroke="#000" stroke-width="1.1" fill="none"/>
<text x="26.3" y="716" font-size="10.22" fill="#000" textLength="20.3" lengthAdjust="spacingAndGlyphs">1006</text>
<text x="26.3" y="694" font-size="10.22" fill="#000" textLength="20.3" lengthAdjust="spacingAndGlyphs">1010</text>
<text x="26.3" y="673" font-size="10.22" fill="#000" textLength="20.3" lengthAdjust="spacingAndGlyphs">1014</text>
<text x="26.3" y="651" font-size="10.22" fill="#000" textLength="20.3" lengthAdjust="spacingAndGlyphs">1018</text>
<g transform="translate(18 675.5) rotate(-90)">
<text x="-11.59" y="0" font-size="10.12" fill="#000" textLength="23.18" lengthAdjust="spacingAndGlyphs">(hPa)</text>
</g>
<path d="M56.5 855.5h-5.4M56.5 837.5h-5.4M56.5 820.5h-5.4M56.5 802.5h-5.4M56.5 784.5h-5.4" stroke="#000" stroke-width="1.1" fill="none"/>
<text x="40.17" y="859.1" font-size="10.22" fill="#000" textLength="5.85" lengthAdjust="spacingAndGlyphs">0</text>
<text x="34.31" y="841.1" font-size="10.22" fill="#000" textLength="11.28" lengthAdjust="spacingAndGlyphs">15</text>
<text x="34.31" y="824.1" font-size="10.22" fill="#000" textLength="11.28" lengthAdjust="spacingAndGlyphs">30</text>
<text x="34.31" y="806.1" font-size="10.22" fill="#000" textLength="11.28" lengthAdjust="spacingAndGlyphs">45</text>
<text x="34.31" y="788.1" font-size="10.22" fill="#000" textLength="11.28" lengthAdjust="spacingAndGlyphs">60</text>
<g transform="translate(27.7 819) rotate(-90)">
<text x="-14.81" y="0" font-size="10.12" fill="#000" textLength="29.64" lengthAdjust="spacingAndGlyphs">(km/h)</text>
</g>
<text x="755.8" y="66.1" font-size="10.22" fill="#f00" textLength="32.07" lengthAdjust="spacingAndGlyphs">279.03</text>
<g transform="translate(785.9 102.1) rotate(-90)">
<text x="-12.23" y="0" font-size="10.12" fill="#f00" textLength="24.45" lengthAdjust="spacingAndGlyphs">(mm)</text>
</g>
<g clip-path="url(#c0)"><path d="M82 138.5V137.5H84V138.5ZM88 138.5V137.5H89V138.5ZM104 138.5V137.5H105V138.5ZM115 138.5V137.3H118V138.5ZM125 138.5V137.5H127V138.5ZM106 138.5V129.5H107V138.5ZM107 138.5V127.25H109V138.5ZM109 138.5V132.25H111V138.5ZM111 138.5V133.9H112V138.5ZM129 138.5V136H130V138.5ZM152 138.5V132.4H154V138.5ZM154 138.5V136.6H155V138.5ZM156 138.5V137.4H157V138.5ZM158 138.5V135.1H159V138.5ZM163 138.5V137.4H164V138.5ZM165 138.5V136H166V138.5ZM167 138.5V134.25H168V138.5ZM170 138.5V137.25H173V138.5ZM174 138.5V135.1H175V138.5ZM179 138.5V135.1H181V138.5ZM186 138.5V136H188V138.5ZM188 138.5V126.1H190V138.5ZM190 138.5V134.9H191V138.5ZM192 138.5V132H193V138.5ZM195 138.5V136H197V138.5ZM208 138.5V136H209V138.5ZM212 138.5V136H213V138.5ZM213 138.5V134.1H215V138.5ZM233 138.5V135.1H234V138.5ZM235 138.5V135.1H236V138.5ZM237 138.5V137.25H238V138.5ZM249 138.5V133.25H251V138.5ZM253 138.5V134.1H254V138.5ZM257 138.5V136.1H258V138.5ZM260 138.5V132.25H261V138.5ZM267 138.5V137.25H269V138.5ZM278 138.5V136.1H279V138.5ZM287 138.5V135.1H288V138.5ZM289 138.5V134.1H290V138.5ZM291 138.5V136.1H294V138.5ZM294 138.5V133.25H296V138.5ZM298 138.5V133.25H299V138.5ZM301 138.5V132.25H303V138.5ZM303 138.5V120.1H305V138.5ZM305 138.5V132.25H306V138.5ZM307 138.5V137.25H308V138.5ZM325 138.5V134.1H326V138.5ZM327 138.5V134.1H328V138.5ZM328 138.5V132.25H330V138.5ZM332 138.5V130.1H333V138.5ZM334 138.5V132.25H335V138.5ZM337 138.5V133.25H339V138.5ZM339 138.5V137.25H340V138.5ZM341 138.5V136.1H342V138.5ZM343 138.5V132.25H344V138.5ZM345 138.5V133.25H346V138.5ZM346 138.5V136.1H348V138.5ZM355 138.5V123H357V138.5ZM389 138.5V115.1H391V138.5ZM406 138.5V121.4H407V138.5ZM407 138.5V111.1H409V138.5ZM409 138.5V97.1H411V138.5ZM411 138.5V111.1H412V138.5ZM413 138.5V86.1H414V138.5ZM415 138.5V123H416V138.5ZM427 138.5V125.1H428V138.5ZM438 138.5V123H439V138.5ZM440 138.5V115.1H441V138.5ZM442 138.5V110.1H443V138.5ZM443 138.5V123H445V138.5ZM445 138.5V127H446V138.5ZM447 138.5V123H448V138.5ZM449 138.5V123H450V138.5ZM451 138.5V71.1H452V138.5ZM512 138.5V115.1H513V138.5ZM513 138.5V121.1H515V138.5ZM537 138.5V135.1H538V138.5ZM539 138.5V135.1H542V138.5ZM542 138.5V125.1H543V138.5ZM544 138.5V125.1H545V138.5ZM546 138.5V125.1H547V138.5ZM548 138.5V123H552V138.5ZM553 138.5V125.1H554V138.5ZM555 138.5V125.1H556V138.5ZM557 138.5V125.1H558V138.5ZM558 138.5V108.1H561V138.5ZM562 138.5V108.1H563V138.5ZM564 138.5V107.1H565V138.5ZM566 138.5V107.1H569V138.5ZM569 138.5V97.1H570V138.5ZM571 138.5V97.1H572V138.5ZM573 138.5V97.1H574V138.5ZM574 138.5V121.1H579V138.5ZM585 138.5V133.1H588V138.5ZM589 138.5V133.1H590V138.5ZM596 138.5V127.1H597V138.5ZM598 138.5V127.1H599V138.5ZM600 138.5V127.1H601V138.5ZM601 138.5V133.1H606V138.5ZM607 138.5V133.1H608V138.5ZM609 138.5V133.1H612V138.5ZM618 138.5V121.1H622V138.5ZM623 138.5V133.1H624V138.5ZM625 138.5V133.1H626V138.5ZM627 138.5V133.1H628V138.5ZM639 138.5V129.1H640V138.5ZM641 138.5V129.1H642V138.5ZM643 138.5V129.1H644V138.5ZM645 138.5V131.1H649V138.5ZM666 138.5V110.1H667V138.5ZM668 138.5V110.1H669V138.5ZM670 138.5V110.1H671V138.5ZM671 138.5V121.1H676V138.5ZM677 138.5V123H678V138.5ZM679 138.5V123H682V138.5ZM682 138.5V96.1H685V138.5ZM686 138.5V96.1H687V138.5ZM688 138.5V123H693V138.5ZM704 138.5V127.1H705V138.5ZM706 138.5V127.1H709V138.5ZM709 138.5V131.1H712V138.5ZM713 138.5V131.1H714V138.5ZM715 138.5V112.1H719V138.5Z" fill="#00f"/>
<polyline points="56.5,135.3 104,134.8 111,133.8 150,133.4 187.5,131.9 192.5,131.2 250,130.55 287.5,129.4 303.75,128.2 325,127.8 337.5,126.2 350,125.55 387.5,125.3 405,124.3 413.75,118.2 427.5,117.8 428.5,117.5 430,117.9 437.5,117.8 442.5,115.3 450,112.8 451.9,110.9 510,110.9 514.4,109.3 535,109.05 542.5,108.2 550,106.8 556.25,104.7 566.25,98.4 573.75,93.05 578.75,91.3 595,90.7 602.5,89.3 617.5,88.4 622.5,86.55 637.5,86.2 650,84.05 665,84.05 670.6,80.9 681.25,77.55 686.9,72.8 692.5,71.3 703.75,71.3 713.75,69.05 718.75,66.3 744.5,66.3" fill="none" stroke="#f00" stroke-width="1.45" stroke-linejoin="round"/></g>
<g clip-path="url(#c1)" shape-rendering="crispEdges">
<path d="M61 282.5V280.22h1V282.5ZM63 282.5V277.94h1V282.5ZM64 282.5V276.42h2V282.5ZM66 282.5V276.42h1V282.5ZM73 282.5V243.74h2V282.5ZM75 282.5V233.1h1V282.5ZM77 282.5V222.46h1V282.5ZM79 282.5V218.66h1V282.5ZM81 282.5V228.54h1V282.5ZM82 282.5V247.54h2V282.5ZM84 282.5V250.58h1V282.5ZM88 282.5V248.3h1V282.5ZM90 282.5V252.86h1V282.5ZM91 282.5V265.78h2V282.5ZM93 282.5V274.9h1V282.5ZM95 282.5V279.46h1V282.5ZM97 282.5V261.98h1V282.5ZM99 282.5V269.58h1V282.5ZM106 282.5V244.5h1V282.5ZM107 282.5V236.9h2V282.5ZM109 282.5V219.42h2V282.5ZM111 282.5V222.46h1V282.5ZM113 282.5V239.18h1V282.5ZM115 282.5V254.38h1V282.5ZM116 282.5V267.3h2V282.5ZM118 282.5V276.42h1V282.5ZM120 282.5V263.5h1V282.5ZM124 282.5V247.54h1V282.5ZM125 282.5V239.18h2V282.5ZM127 282.5V250.58h1V282.5ZM129 282.5V265.78h1V282.5ZM131 282.5V271.86h1V282.5ZM133 282.5V255.14h1V282.5ZM134 282.5V242.6h2V282.5ZM136 282.5V261.98h1V282.5ZM138 282.5V272.24h1V282.5ZM149 282.5V274.14h1V282.5ZM151 282.5V236.9h1V282.5ZM152 282.5V214.86h2V282.5ZM154 282.5V214.1h1V282.5ZM156 282.5V217.14h1V282.5ZM158 282.5V212.58h1V282.5ZM160 282.5V213.34h1V282.5ZM161 282.5V219.04h2V282.5ZM163 282.5V217.14h1V282.5ZM165 282.5V232.34h1V282.5ZM167 282.5V250.58h1V282.5ZM169 282.5V243.74h1V282.5ZM170 282.5V214.86h2V282.5ZM172 282.5V236.9h1V282.5ZM174 282.5V250.58h1V282.5ZM176 282.5V238.42h1V282.5ZM178 282.5V224.28h1V282.5ZM179 282.5V212.73h2V282.5ZM181 282.5V211.29h1V282.5ZM183 282.5V250.58h1V282.5ZM185 282.5V263.5h1V282.5ZM187 282.5V274.14h1V282.5ZM188 282.5V273.38h2V282.5ZM190 282.5V267.3h1V282.5ZM192 282.5V273.38h1V282.5ZM194 282.5V279.08h1V282.5ZM196 282.5V277.18h1V282.5ZM197 282.5V275.36h2V282.5ZM199 282.5V278.7h1V282.5ZM208 282.5V271.33h1V282.5ZM210 282.5V233.86h1V282.5ZM212 282.5V222.46h1V282.5ZM213 282.5V212.12h2V282.5ZM215 282.5V242.22h1V282.5ZM217 282.5V269.12h1V282.5ZM219 282.5V266.54h1V282.5ZM221 282.5V239.18h1V282.5ZM222 282.5V213.34h2V282.5ZM224 282.5V228.01h1V282.5ZM226 282.5V227.17h1V282.5ZM228 282.5V256.36h1V282.5ZM230 282.5V275.36h1V282.5ZM231 282.5V273.46h2V282.5ZM233 282.5V278.7h1V282.5ZM244 282.5V267.3h1V282.5ZM246 282.5V274.37h1V282.5ZM248 282.5V275.36h1V282.5ZM249 282.5V218.66h2V282.5ZM251 282.5V212.73h1V282.5ZM253 282.5V211.82h1V282.5ZM255 282.5V212.12h1V282.5ZM257 282.5V215.24h1V282.5ZM258 282.5V208.4h2V282.5ZM260 282.5V207.49h1V282.5ZM262 282.5V207.26h1V282.5ZM264 282.5V207.26h1V282.5ZM266 282.5V207.26h1V282.5ZM267 282.5V207.26h2V282.5ZM269 282.5V207.26h1V282.5ZM271 282.5V245.26h1V282.5ZM273 282.5V278.47h1V282.5ZM275 282.5V263.5h1V282.5ZM276 282.5V276.42h2V282.5ZM285 282.5V261.37h2V282.5ZM287 282.5V258.48h1V282.5ZM289 282.5V221.32h1V282.5ZM291 282.5V212.73h1V282.5ZM293 282.5V213.34h1V282.5ZM294 282.5V215.24h2V282.5ZM296 282.5V219.42h1V282.5ZM298 282.5V221.32h1V282.5ZM300 282.5V241.46h1V282.5ZM302 282.5V230.29h1V282.5ZM303 282.5V219.42h2V282.5ZM305 282.5V233.4h1V282.5ZM310 282.5V275.36h2V282.5ZM316 282.5V274.37h1V282.5ZM318 282.5V255.37h1V282.5ZM319 282.5V228.54h2V282.5ZM321 282.5V238.42h1V282.5ZM323 282.5V261.37h1V282.5ZM325 282.5V249.29h1V282.5ZM327 282.5V261.37h1V282.5ZM328 282.5V221.32h2V282.5ZM330 282.5V227.17h1V282.5ZM332 282.5V224.28h1V282.5ZM334 282.5V207.49h1V282.5ZM336 282.5V214.25h1V282.5ZM337 282.5V216.53h2V282.5ZM339 282.5V228.54h1V282.5ZM341 282.5V239.33h1V282.5ZM343 282.5V214.25h1V282.5ZM345 282.5V207.26h1V282.5ZM346 282.5V207.26h2V282.5ZM348 282.5V207.26h1V282.5ZM350 282.5V207.26h1V282.5ZM352 282.5V220.18h1V282.5ZM354 282.5V207.26h1V282.5ZM355 282.5V207.26h2V282.5ZM357 282.5V210.3h1V282.5ZM359 282.5V207.26h1V282.5ZM361 282.5V208.02h1V282.5ZM363 282.5V207.26h1V282.5ZM364 282.5V207.26h2V282.5ZM366 282.5V207.26h1V282.5ZM368 282.5V222.46h1V282.5ZM370 282.5V257.42h1V282.5ZM372 282.5V280.98h1V282.5ZM379 282.5V279.08h1V282.5ZM381 282.5V279.08h1V282.5ZM382 282.5V272.24h2V282.5ZM384 282.5V258.48h1V282.5ZM386 282.5V216.38h1V282.5ZM388 282.5V210.3h1V282.5ZM390 282.5V210.3h1V282.5ZM391 282.5V218.66h2V282.5ZM393 282.5V240.93h1V282.5ZM395 282.5V243.44h1V282.5ZM406 282.5V207.26h1V282.5ZM407 282.5V207.26h2V282.5ZM409 282.5V207.26h2V282.5ZM411 282.5V207.26h1V282.5ZM413 282.5V207.26h1V282.5ZM415 282.5V207.26h1V282.5ZM416 282.5V207.26h2V282.5ZM418 282.5V211.29h1V282.5ZM420 282.5V220.18h1V282.5ZM422 282.5V244.5h1V282.5ZM424 282.5V265.32h1V282.5ZM425 282.5V251.34h2V282.5ZM427 282.5V217.14h1V282.5ZM429 282.5V209.01h1V282.5ZM431 282.5V223.98h1V282.5ZM433 282.5V208.02h1V282.5ZM434 282.5V208.02h2V282.5ZM436 282.5V212.12h1V282.5ZM438 282.5V208.4h1V282.5ZM440 282.5V218.66h1V282.5ZM442 282.5V222.46h1V282.5ZM443 282.5V250.58h2V282.5ZM445 282.5V264.26h1V282.5ZM447 282.5V250.58h1V282.5ZM449 282.5V262.74h1V282.5ZM451 282.5V252.1h1V282.5ZM452 282.5V220.18h2V282.5ZM454 282.5V213.34h1V282.5ZM456 282.5V216.38h1V282.5ZM458 282.5V212.12h1V282.5ZM460 282.5V207.26h1V282.5ZM461 282.5V207.26h2V282.5ZM463 282.5V207.26h1V282.5ZM465 282.5V208.4h1V282.5ZM467 282.5V234.01h1V282.5ZM469 282.5V231.28h1V282.5ZM470 282.5V231.58h2V282.5ZM472 282.5V237.2h1V282.5ZM474 282.5V207.26h1V282.5ZM476 282.5V207.26h1V282.5ZM478 282.5V212.73h1V282.5ZM479 282.5V218.66h2V282.5ZM481 282.5V216.53h1V282.5ZM483 282.5V213.34h1V282.5ZM485 282.5V228.54h1V282.5ZM487 282.5V215.24h1V282.5ZM488 282.5V221.32h2V282.5ZM490 282.5V237.81h1V282.5ZM492 282.5V252.1h1V282.5ZM494 282.5V255.37h1V282.5ZM496 282.5V253.62h1V282.5ZM497 282.5V232.57h2V282.5ZM499 282.5V229.3h1V282.5ZM501 282.5V227.17h1V282.5ZM503 282.5V208.4h1V282.5ZM504 282.5V210.3h2V282.5ZM506 282.5V209.54h2V282.5ZM508 282.5V207.26h1V282.5ZM510 282.5V229.3h1V282.5ZM512 282.5V207.26h1V282.5ZM513 282.5V207.26h2V282.5ZM515 282.5V207.26h1V282.5ZM517 282.5V208.4h1V282.5ZM519 282.5V210.3h1V282.5ZM521 282.5V209.54h1V282.5ZM522 282.5V238.42h2V282.5ZM524 282.5V266.54h1V282.5ZM526 282.5V278.7h1V282.5ZM530 282.5V238.42h1V282.5ZM531 282.5V207.49h2V282.5ZM533 282.5V223.37h1V282.5ZM535 282.5V239.33h1V282.5ZM537 282.5V267.3h1V282.5ZM539 282.5V228.54h1V282.5ZM540 282.5V207.49h2V282.5ZM542 282.5V208.02h1V282.5ZM544 282.5V207.26h1V282.5ZM546 282.5V207.26h1V282.5ZM548 282.5V207.26h1V282.5ZM549 282.5V207.26h2V282.5ZM551 282.5V207.26h1V282.5ZM553 282.5V210.3h1V282.5ZM555 282.5V212.58h1V282.5ZM557 282.5V209.54h1V282.5ZM558 282.5V217.14h2V282.5ZM560 282.5V207.26h1V282.5ZM562 282.5V207.26h1V282.5ZM564 282.5V207.26h1V282.5ZM566 282.5V207.26h1V282.5ZM567 282.5V207.26h2V282.5ZM569 282.5V208.02h1V282.5ZM571 282.5V208.78h1V282.5ZM573 282.5V240.32h1V282.5ZM575 282.5V261.6h1V282.5ZM576 282.5V260.46h2V282.5ZM578 282.5V259.09h1V282.5ZM582 282.5V247.16h1V282.5ZM584 282.5V216.53h1V282.5ZM585 282.5V225.5h2V282.5ZM587 282.5V234.01h1V282.5ZM589 282.5V218.66h1V282.5ZM591 282.5V212.12h1V282.5ZM593 282.5V209.54h1V282.5ZM594 282.5V207.49h2V282.5ZM596 282.5V208.4h1V282.5ZM598 282.5V212.73h1V282.5ZM600 282.5V208.4h1V282.5ZM601 282.5V207.49h2V282.5ZM603 282.5V226.26h2V282.5ZM605 282.5V237.2h1V282.5ZM607 282.5V231.28h1V282.5ZM609 282.5V250.58h1V282.5ZM610 282.5V249.29h2V282.5ZM612 282.5V254.38h1V282.5ZM614 282.5V263.5h1V282.5ZM618 282.5V258.94h1V282.5ZM619 282.5V260.46h2V282.5ZM621 282.5V262.74h1V282.5ZM623 282.5V224.28h1V282.5ZM625 282.5V215.24h1V282.5ZM627 282.5V215.24h1V282.5ZM628 282.5V228.54h2V282.5ZM630 282.5V225.5h1V282.5ZM632 282.5V235.38h1V282.5ZM634 282.5V238.42h1V282.5ZM636 282.5V242.22h1V282.5ZM643 282.5V278.7h1V282.5ZM645 282.5V245.26h1V282.5ZM646 282.5V260.46h2V282.5ZM648 282.5V263.5h1V282.5ZM650 282.5V263.5h1V282.5ZM652 282.5V226.26h1V282.5ZM654 282.5V213.34h1V282.5ZM655 282.5V243.44h2V282.5ZM659 282.5V276.42h1V282.5ZM661 282.5V251.34h1V282.5ZM663 282.5V229.3h1V282.5ZM664 282.5V258.48h2V282.5ZM666 282.5V228.54h1V282.5ZM668 282.5V219.42h1V282.5ZM670 282.5V229.3h1V282.5ZM672 282.5V244.04h1V282.5ZM673 282.5V242.52h2V282.5ZM675 282.5V254.38h1V282.5ZM677 282.5V237.2h1V282.5ZM679 282.5V228.54h1V282.5ZM681 282.5V240.32h1V282.5ZM682 282.5V230.29h2V282.5ZM684 282.5V227.17h1V282.5ZM686 282.5V223.98h1V282.5ZM688 282.5V234.32h1V282.5ZM690 282.5V242.98h1V282.5ZM691 282.5V250.58h2V282.5ZM693 282.5V260.46h1V282.5ZM695 282.5V239.33h1V282.5ZM697 282.5V217.9h1V282.5ZM698 282.5V219.42h2V282.5ZM700 282.5V252.1h2V282.5ZM702 282.5V257.42h1V282.5ZM704 282.5V243.44h1V282.5ZM706 282.5V234.01h1V282.5ZM707 282.5V222.46h2V282.5ZM709 282.5V225.5h1V282.5ZM711 282.5V239.33h1V282.5ZM713 282.5V251.34h1V282.5ZM715 282.5V253.62h1V282.5ZM716 282.5V245.26h2V282.5ZM718 282.5V243.44h1V282.5ZM720 282.5V249.29h1V282.5ZM722 282.5V229.3h1V282.5ZM724 282.5V235.38h1V282.5ZM725 282.5V227.02h2V282.5ZM727 282.5V222.46h1V282.5ZM729 282.5V218.66h1V282.5ZM731 282.5V226.26h1V282.5ZM733 282.5V219.42h1V282.5ZM734 282.5V208.4h2V282.5ZM736 282.5V215.92h1V282.5ZM738 282.5V210.3h1V282.5ZM740 282.5V212.12h1V282.5ZM742 282.5V226.26h1V282.5ZM743 282.5V223.98h2V282.5Z" fill="#00f" fill-opacity="0.25"/>
<path d="M57 282.5V213.34h1V282.5ZM59 282.5V206.5h1V282.5ZM61 282.5V206.5h1V282.5ZM63 282.5V206.5h1V282.5ZM64 282.5V208.02h2V282.5ZM66 282.5V210.3h1V282.5ZM68 282.5V248.3h1V282.5ZM72 282.5V247.54h1V282.5ZM73 282.5V208.02h2V282.5ZM75 282.5V206.5h1V282.5ZM77 282.5V208.02h1V282.5ZM79 282.5V208.02h1V282.5ZM81 282.5V218.66h1V282.5ZM82 282.5V236.9h2V282.5ZM84 282.5V250.58h1V282.5ZM86 282.5V256.66h1V282.5ZM88 282.5V250.58h1V282.5ZM90 282.5V252.1h1V282.5ZM91 282.5V259.7h2V282.5ZM93 282.5V274.9h1V282.5ZM97 282.5V268.82h1V282.5ZM99 282.5V276.42h1V282.5ZM100 282.5V281.74h2V282.5ZM104 282.5V258.18h1V282.5ZM106 282.5V247.54h1V282.5ZM107 282.5V243.74h2V282.5ZM109 282.5V233.1h2V282.5ZM111 282.5V236.9h1V282.5ZM113 282.5V250.58h1V282.5ZM115 282.5V259.7h1V282.5ZM116 282.5V268.06h2V282.5ZM118 282.5V272.24h1V282.5ZM120 282.5V260.46h1V282.5ZM122 282.5V254.38h1V282.5ZM124 282.5V241.46h1V282.5ZM125 282.5V235.38h2V282.5ZM127 282.5V242.6h1V282.5ZM129 282.5V263.5h1V282.5ZM131 282.5V261.22h1V282.5ZM133 282.5V257.42h1V282.5ZM134 282.5V251.34h2V282.5ZM136 282.5V258.94h1V282.5ZM138 282.5V268.82h1V282.5ZM149 282.5V271.4h1V282.5ZM151 282.5V258.18h1V282.5ZM152 282.5V265.02h2V282.5ZM154 282.5V234.62h1V282.5ZM156 282.5V221.32h1V282.5ZM158 282.5V212.2h1V282.5ZM160 282.5V238.42h1V282.5ZM161 282.5V249.29h2V282.5ZM163 282.5V232.34h1V282.5ZM165 282.5V226.26h1V282.5ZM167 282.5V247.16h1V282.5ZM169 282.5V235.38h1V282.5ZM170 282.5V215.24h2V282.5ZM172 282.5V233.4h1V282.5ZM174 282.5V255.14h1V282.5ZM176 282.5V270.34h1V282.5ZM178 282.5V242.98h1V282.5ZM179 282.5V217.14h2V282.5ZM181 282.5V212.12h1V282.5ZM183 282.5V222.46h1V282.5ZM185 282.5V250.58h1V282.5ZM187 282.5V263.5h1V282.5ZM188 282.5V273.38h2V282.5ZM190 282.5V271.33h1V282.5ZM192 282.5V275.36h1V282.5ZM194 282.5V269.35h1V282.5ZM196 282.5V270.34h1V282.5ZM197 282.5V276.65h2V282.5ZM199 282.5V276.65h1V282.5ZM208 282.5V259.32h1V282.5ZM210 282.5V226.26h1V282.5ZM212 282.5V224.28h1V282.5ZM213 282.5V212.12h2V282.5ZM215 282.5V225.5h1V282.5ZM217 282.5V244.04h1V282.5ZM219 282.5V263.5h1V282.5ZM221 282.5V258.48h1V282.5ZM222 282.5V233.1h2V282.5ZM224 282.5V237.2h1V282.5ZM226 282.5V225.5h1V282.5ZM228 282.5V256.36h1V282.5ZM230 282.5V254.38h1V282.5ZM231 282.5V264.34h2V282.5ZM233 282.5V278.47h1V282.5ZM237 282.5V280.22h1V282.5ZM249 282.5V227.17h2V282.5ZM251 282.5V212.73h1V282.5ZM253 282.5V210.3h1V282.5ZM255 282.5V209.54h1V282.5ZM257 282.5V209.54h1V282.5ZM258 282.5V208.4h2V282.5ZM260 282.5V207.49h1V282.5ZM262 282.5V207.26h1V282.5ZM264 282.5V207.26h1V282.5ZM266 282.5V212.12h1V282.5ZM267 282.5V220.18h2V282.5ZM269 282.5V249.29h1V282.5ZM271 282.5V275.36h1V282.5ZM273 282.5V280.37h1V282.5ZM284 282.5V278.47h1V282.5ZM285 282.5V266.54h2V282.5ZM287 282.5V265.32h1V282.5ZM289 282.5V243.44h1V282.5ZM291 282.5V210.3h1V282.5ZM293 282.5V213.34h1V282.5ZM294 282.5V215.24h2V282.5ZM296 282.5V234.32h1V282.5ZM300 282.5V247.16h1V282.5ZM302 282.5V222.46h1V282.5ZM303 282.5V221.32h2V282.5ZM305 282.5V227.17h1V282.5ZM307 282.5V257.42h1V282.5ZM310 282.5V276.65h2V282.5ZM312 282.5V277.94h2V282.5ZM314 282.5V278.47h1V282.5ZM316 282.5V276.42h1V282.5ZM330 282.5V260.46h1V282.5ZM332 282.5V228.54h1V282.5ZM334 282.5V214.25h1V282.5ZM336 282.5V217.14h1V282.5ZM337 282.5V217.14h2V282.5ZM339 282.5V237.2h1V282.5ZM341 282.5V247.16h1V282.5ZM343 282.5V218.43h1V282.5ZM345 282.5V207.26h1V282.5ZM346 282.5V207.26h2V282.5ZM348 282.5V207.26h1V282.5ZM350 282.5V210.3h1V282.5ZM352 282.5V207.26h1V282.5ZM354 282.5V207.26h1V282.5ZM355 282.5V207.26h2V282.5ZM357 282.5V207.26h1V282.5ZM359 282.5V207.26h1V282.5ZM361 282.5V208.02h1V282.5ZM363 282.5V207.26h1V282.5ZM364 282.5V207.26h2V282.5ZM366 282.5V207.26h1V282.5ZM368 282.5V208.02h1V282.5ZM370 282.5V209.54h1V282.5ZM372 282.5V212.12h1V282.5ZM373 282.5V215.24h2V282.5ZM375 282.5V215.24h1V282.5ZM377 282.5V229.3h1V282.5ZM379 282.5V272.24h1V282.5ZM381 282.5V260.46h1V282.5ZM382 282.5V250.58h2V282.5ZM384 282.5V228.54h1V282.5ZM386 282.5V208.4h1V282.5ZM388 282.5V207.26h1V282.5ZM390 282.5V207.26h1V282.5ZM391 282.5V210.3h2V282.5ZM393 282.5V208.4h1V282.5ZM395 282.5V214.25h1V282.5ZM397 282.5V246.78h1V282.5ZM399 282.5V270.34h1V282.5ZM400 282.5V275.36h2V282.5ZM402 282.5V251.34h1V282.5ZM404 282.5V268.44h1V282.5ZM406 282.5V275.36h1V282.5ZM407 282.5V268.44h2V282.5ZM409 282.5V236.52h2V282.5ZM411 282.5V224.28h1V282.5ZM413 282.5V231.28h1V282.5ZM415 282.5V220.18h1V282.5ZM416 282.5V229.3h2V282.5ZM418 282.5V222.46h1V282.5ZM420 282.5V236.52h1V282.5ZM422 282.5V249.29h1V282.5ZM424 282.5V260.46h1V282.5ZM425 282.5V225.5h2V282.5ZM427 282.5V225.5h1V282.5ZM429 282.5V208.4h1V282.5ZM431 282.5V219.42h1V282.5ZM433 282.5V208.02h1V282.5ZM434 282.5V211.29h2V282.5ZM436 282.5V208.02h1V282.5ZM438 282.5V211.29h1V282.5ZM440 282.5V210.3h1V282.5ZM442 282.5V207.49h1V282.5ZM443 282.5V215.92h2V282.5ZM445 282.5V213.34h1V282.5ZM447 282.5V215.24h1V282.5ZM449 282.5V225.5h1V282.5ZM451 282.5V241.46h1V282.5ZM452 282.5V255.37h2V282.5ZM454 282.5V261.6h1V282.5ZM456 282.5V248.45h1V282.5ZM458 282.5V232.34h1V282.5ZM460 282.5V245.26h1V282.5ZM461 282.5V238.42h2V282.5ZM463 282.5V231.58h1V282.5ZM465 282.5V221.32h1V282.5ZM467 282.5V210.3h1V282.5ZM469 282.5V207.26h1V282.5ZM470 282.5V212.12h2V282.5ZM472 282.5V212.73h1V282.5ZM474 282.5V225.5h1V282.5ZM476 282.5V212.12h1V282.5ZM478 282.5V217.14h1V282.5ZM479 282.5V227.17h2V282.5ZM481 282.5V225.5h1V282.5ZM483 282.5V215.92h1V282.5ZM485 282.5V211.29h1V282.5ZM487 282.5V207.26h1V282.5ZM488 282.5V207.26h2V282.5ZM490 282.5V207.26h1V282.5ZM492 282.5V207.26h1V282.5ZM494 282.5V220.18h1V282.5ZM496 282.5V247.54h1V282.5ZM497 282.5V265.32h2V282.5ZM499 282.5V247.16h1V282.5ZM501 282.5V229.3h1V282.5ZM503 282.5V221.32h1V282.5ZM504 282.5V211.29h2V282.5ZM506 282.5V214.25h2V282.5ZM508 282.5V212.73h1V282.5ZM510 282.5V207.26h1V282.5ZM512 282.5V207.26h1V282.5ZM513 282.5V207.26h2V282.5ZM515 282.5V225.5h1V282.5ZM517 282.5V247.84h1V282.5ZM519 282.5V267.3h1V282.5ZM521 282.5V255.37h1V282.5ZM522 282.5V250.58h2V282.5ZM524 282.5V269.35h1V282.5ZM526 282.5V275.36h1V282.5ZM528 282.5V254.38h1V282.5ZM530 282.5V270.34h1V282.5ZM531 282.5V274.37h2V282.5ZM537 282.5V263.5h1V282.5ZM540 282.5V232.57h2V282.5ZM542 282.5V207.26h1V282.5ZM544 282.5V207.26h1V282.5ZM546 282.5V207.26h1V282.5ZM548 282.5V207.26h1V282.5ZM549 282.5V207.26h2V282.5ZM551 282.5V207.26h1V282.5ZM553 282.5V207.26h1V282.5ZM555 282.5V212.12h1V282.5ZM557 282.5V208.02h1V282.5ZM558 282.5V208.4h2V282.5ZM560 282.5V212.12h1V282.5ZM562 282.5V208.4h1V282.5ZM564 282.5V209.54h1V282.5ZM566 282.5V207.26h1V282.5ZM567 282.5V207.26h2V282.5ZM569 282.5V207.26h1V282.5ZM571 282.5V207.26h1V282.5ZM573 282.5V208.4h1V282.5ZM575 282.5V210.3h1V282.5ZM576 282.5V214.25h2V282.5ZM578 282.5V223.37h1V282.5ZM580 282.5V233.4h1V282.5ZM582 282.5V223.37h1V282.5ZM584 282.5V209.54h1V282.5ZM585 282.5V207.49h2V282.5ZM587 282.5V209.54h1V282.5ZM589 282.5V215.24h1V282.5ZM591 282.5V211.29h1V282.5ZM593 282.5V214.25h1V282.5ZM594 282.5V215.92h2V282.5ZM596 282.5V213.34h1V282.5ZM598 282.5V209.01h1V282.5ZM600 282.5V208.02h1V282.5ZM601 282.5V208.4h2V282.5ZM603 282.5V208.4h2V282.5ZM605 282.5V212.12h1V282.5ZM607 282.5V210.3h1V282.5ZM609 282.5V217.14h1V282.5ZM610 282.5V210.3h2V282.5ZM612 282.5V207.49h1V282.5ZM614 282.5V207.26h1V282.5ZM616 282.5V207.49h1V282.5ZM618 282.5V217.14h1V282.5ZM619 282.5V232.57h2V282.5ZM621 282.5V221.32h1V282.5ZM623 282.5V232.34h1V282.5ZM625 282.5V258.48h1V282.5ZM627 282.5V239.33h1V282.5ZM628 282.5V247.16h2V282.5ZM630 282.5V257.42h1V282.5ZM632 282.5V247.16h1V282.5ZM634 282.5V242.22h1V282.5ZM636 282.5V244.04h1V282.5ZM637 282.5V256.66h2V282.5ZM641 282.5V234.32h1V282.5ZM643 282.5V212.12h1V282.5ZM645 282.5V210.3h1V282.5ZM646 282.5V233.4h2V282.5ZM648 282.5V252.1h1V282.5ZM650 282.5V270.34h1V282.5ZM652 282.5V248.45h1V282.5ZM654 282.5V219.42h1V282.5ZM655 282.5V235.38h2V282.5ZM657 282.5V265.32h1V282.5ZM661 282.5V264.34h1V282.5ZM663 282.5V238.42h1V282.5ZM664 282.5V259.32h2V282.5ZM666 282.5V252.1h1V282.5ZM668 282.5V245.26h1V282.5ZM670 282.5V243.44h1V282.5ZM672 282.5V260.46h1V282.5ZM673 282.5V249.29h2V282.5ZM675 282.5V249.29h1V282.5ZM677 282.5V236.52h1V282.5ZM679 282.5V232.34h1V282.5ZM681 282.5V234.32h1V282.5ZM682 282.5V221.32h2V282.5ZM684 282.5V226.26h1V282.5ZM686 282.5V214.25h1V282.5ZM688 282.5V234.32h1V282.5ZM690 282.5V242.22h1V282.5ZM691 282.5V242.52h2V282.5ZM693 282.5V252.1h1V282.5ZM695 282.5V243.44h1V282.5ZM697 282.5V216.38h1V282.5ZM698 282.5V222.46h2V282.5ZM700 282.5V244.5h2V282.5ZM702 282.5V229.3h1V282.5ZM704 282.5V237.2h1V282.5ZM706 282.5V234.01h1V282.5ZM707 282.5V219.42h2V282.5ZM709 282.5V218.66h1V282.5ZM711 282.5V248.45h1V282.5ZM713 282.5V257.42h1V282.5ZM715 282.5V255.37h1V282.5ZM716 282.5V256.36h2V282.5ZM718 282.5V258.48h1V282.5ZM720 282.5V255.37h1V282.5ZM722 282.5V239.33h1V282.5ZM724 282.5V239.33h1V282.5ZM725 282.5V226.26h2V282.5ZM727 282.5V238.42h1V282.5ZM729 282.5V230.29h1V282.5ZM731 282.5V235.38h1V282.5ZM733 282.5V226.26h1V282.5ZM734 282.5V212.73h2V282.5ZM736 282.5V207.26h1V282.5ZM738 282.5V208.4h1V282.5ZM740 282.5V209.54h1V282.5ZM742 282.5V214.25h1V282.5ZM743 282.5V217.14h2V282.5Z" fill="#008000" fill-opacity="0.5"/>
<path d="M68 282.5V280.22h1V282.5ZM70 282.5V278.7h1V282.5ZM72 282.5V276.42h1V282.5ZM73 282.5V274.14h2V282.5ZM75 282.5V280.98h1V282.5ZM77 282.5V269.58h1V282.5ZM79 282.5V280.22h1V282.5ZM81 282.5V264.26h1V282.5ZM82 282.5V267.3h2V282.5ZM84 282.5V275.66h1V282.5ZM86 282.5V280.22h1V282.5ZM88 282.5V261.98h1V282.5ZM90 282.5V278.7h1V282.5ZM106 282.5V280.98h1V282.5ZM107 282.5V278.7h2V282.5ZM109 282.5V279.46h2V282.5ZM111 282.5V280.98h1V282.5ZM115 282.5V280.22h1V282.5ZM125 282.5V280.22h2V282.5ZM151 282.5V280.22h1V282.5ZM152 282.5V276.04h2V282.5ZM154 282.5V280.98h1V282.5ZM156 282.5V281.74h1V282.5ZM158 282.5V281.74h1V282.5ZM165 282.5V279.08h1V282.5ZM170 282.5V273.38h2V282.5ZM185 282.5V281.74h1V282.5ZM190 282.5V281.36h1V282.5ZM192 282.5V280.22h1V282.5ZM194 282.5V279.46h1V282.5ZM196 282.5V280.22h1V282.5ZM197 282.5V280.22h2V282.5ZM201 282.5V280.22h1V282.5ZM210 282.5V274.14h1V282.5ZM212 282.5V273.38h1V282.5ZM213 282.5V280.22h2V282.5ZM235 282.5V280.22h1V282.5ZM237 282.5V280.98h1V282.5ZM239 282.5V276.42h1V282.5ZM240 282.5V278.47h2V282.5ZM242 282.5V279.46h1V282.5ZM244 282.5V281.74h1V282.5ZM246 282.5V278.47h1V282.5ZM248 282.5V276.65h1V282.5ZM249 282.5V263.5h2V282.5ZM251 282.5V257.42h1V282.5ZM253 282.5V275.36h1V282.5ZM255 282.5V278.7h1V282.5ZM258 282.5V275.36h2V282.5ZM267 282.5V280.22h2V282.5ZM278 282.5V278.47h1V282.5ZM280 282.5V278.47h1V282.5ZM282 282.5V279.46h1V282.5ZM284 282.5V274.37h1V282.5ZM285 282.5V276.42h2V282.5ZM287 282.5V277.18h1V282.5ZM289 282.5V277.18h1V282.5ZM291 282.5V275.96h1V282.5ZM293 282.5V263.5h1V282.5ZM294 282.5V269.35h2V282.5ZM296 282.5V274.14h1V282.5ZM300 282.5V278.47h1V282.5ZM302 282.5V245.26h1V282.5ZM303 282.5V269.12h2V282.5ZM305 282.5V266.54h1V282.5ZM307 282.5V265.32h1V282.5ZM309 282.5V260.46h1V282.5ZM310 282.5V247.54h2V282.5ZM312 282.5V259.32h2V282.5ZM314 282.5V274.9h1V282.5ZM323 282.5V281.74h1V282.5ZM325 282.5V274.37h1V282.5ZM327 282.5V273.38h1V282.5ZM328 282.5V277.18h2V282.5ZM330 282.5V277.94h1V282.5ZM332 282.5V274.37h1V282.5ZM334 282.5V274.37h1V282.5ZM336 282.5V275.96h1V282.5ZM337 282.5V263.5h2V282.5ZM339 282.5V264.34h1V282.5ZM341 282.5V267.3h1V282.5ZM343 282.5V267.3h1V282.5ZM345 282.5V273.38h1V282.5ZM346 282.5V276.42h2V282.5ZM348 282.5V278.7h1V282.5ZM350 282.5V271.33h1V282.5ZM352 282.5V270.34h1V282.5ZM354 282.5V263.5h1V282.5ZM355 282.5V272.24h2V282.5ZM357 282.5V242.22h1V282.5ZM359 282.5V233.4h1V282.5ZM361 282.5V242.22h1V282.5ZM363 282.5V246.78h1V282.5ZM364 282.5V267.3h2V282.5ZM366 282.5V279.08h1V282.5ZM368 282.5V279.46h1V282.5ZM370 282.5V279.46h1V282.5ZM372 282.5V279.46h1V282.5ZM382 282.5V277.18h2V282.5ZM386 282.5V271.33h1V282.5ZM388 282.5V268.44h1V282.5ZM390 282.5V274.14h1V282.5ZM391 282.5V278.47h2V282.5ZM399 282.5V281.74h1V282.5ZM400 282.5V270.34h2V282.5ZM402 282.5V260.46h1V282.5ZM404 282.5V280.37h1V282.5ZM406 282.5V252.1h1V282.5ZM407 282.5V270.34h2V282.5ZM409 282.5V280.37h2V282.5ZM411 282.5V280.37h1V282.5ZM416 282.5V281.36h2V282.5ZM425 282.5V280.37h2V282.5ZM427 282.5V280.37h1V282.5ZM429 282.5V279.46h1V282.5ZM431 282.5V272.24h1V282.5ZM433 282.5V265.32h1V282.5ZM434 282.5V273.38h2V282.5ZM436 282.5V271.33h1V282.5ZM438 282.5V266.54h1V282.5ZM440 282.5V259.32h1V282.5ZM442 282.5V260.46h1V282.5ZM443 282.5V265.32h2V282.5ZM445 282.5V268.44h1V282.5ZM447 282.5V268.44h1V282.5ZM449 282.5V265.32h1V282.5ZM451 282.5V262.21h1V282.5ZM452 282.5V271.63h2V282.5ZM454 282.5V273.38h1V282.5ZM456 282.5V276.42h1V282.5ZM458 282.5V280.37h1V282.5ZM460 282.5V280.37h1V282.5ZM461 282.5V275.36h2V282.5ZM463 282.5V278.47h1V282.5ZM465 282.5V274.37h1V282.5ZM467 282.5V273.38h1V282.5ZM469 282.5V278.47h1V282.5ZM470 282.5V272.24h2V282.5ZM472 282.5V269.35h1V282.5ZM474 282.5V272.24h1V282.5ZM476 282.5V271.33h1V282.5ZM478 282.5V272.24h1V282.5ZM479 282.5V270.34h2V282.5ZM481 282.5V270.34h1V282.5ZM483 282.5V266.54h1V282.5ZM485 282.5V264.34h1V282.5ZM487 282.5V262.21h1V282.5ZM488 282.5V269.35h2V282.5ZM490 282.5V273.38h1V282.5ZM492 282.5V276.42h1V282.5ZM494 282.5V275.36h1V282.5ZM496 282.5V273.38h1V282.5ZM497 282.5V270.34h2V282.5ZM499 282.5V276.42h1V282.5ZM506 282.5V280.37h2V282.5ZM508 282.5V280.37h1V282.5ZM510 282.5V271.33h1V282.5ZM512 282.5V264.34h1V282.5ZM513 282.5V263.5h2V282.5ZM515 282.5V271.33h1V282.5ZM517 282.5V266.54h1V282.5ZM519 282.5V261.37h1V282.5ZM521 282.5V265.32h1V282.5ZM522 282.5V269.35h2V282.5ZM524 282.5V270.34h1V282.5ZM526 282.5V279.08h1V282.5ZM530 282.5V280.37h1V282.5ZM533 282.5V264.34h1V282.5ZM535 282.5V249.29h1V282.5ZM537 282.5V267.3h1V282.5ZM539 282.5V266.54h1V282.5ZM540 282.5V267.3h2V282.5ZM542 282.5V274.14h1V282.5ZM544 282.5V274.37h1V282.5ZM546 282.5V269.35h1V282.5ZM548 282.5V265.32h1V282.5ZM549 282.5V262.21h2V282.5ZM551 282.5V265.32h1V282.5ZM553 282.5V267.3h1V282.5ZM555 282.5V253.62h1V282.5ZM557 282.5V259.32h1V282.5ZM558 282.5V254.38h2V282.5ZM560 282.5V252.1h1V282.5ZM562 282.5V259.32h1V282.5ZM564 282.5V259.32h1V282.5ZM566 282.5V267.3h1V282.5ZM567 282.5V256.66h2V282.5ZM569 282.5V247.54h1V282.5ZM571 282.5V244.5h1V282.5ZM573 282.5V240.32h1V282.5ZM575 282.5V240.32h1V282.5ZM576 282.5V230.29h2V282.5ZM578 282.5V242.22h1V282.5ZM580 282.5V255.37h1V282.5ZM582 282.5V258.48h1V282.5ZM584 282.5V258.48h1V282.5ZM585 282.5V256.36h2V282.5ZM587 282.5V266.54h1V282.5ZM589 282.5V274.37h1V282.5ZM591 282.5V268.44h1V282.5ZM593 282.5V275.36h1V282.5ZM594 282.5V275.36h2V282.5ZM596 282.5V260.46h1V282.5ZM598 282.5V256.36h1V282.5ZM600 282.5V247.16h1V282.5ZM601 282.5V254.38h2V282.5ZM603 282.5V250.58h2V282.5ZM605 282.5V257.42h1V282.5ZM607 282.5V267.3h1V282.5ZM609 282.5V275.36h1V282.5ZM610 282.5V270.34h2V282.5ZM612 282.5V254.38h1V282.5ZM614 282.5V249.29h1V282.5ZM616 282.5V245.26h1V282.5ZM618 282.5V237.2h1V282.5ZM619 282.5V233.1h2V282.5ZM621 282.5V242.22h1V282.5ZM623 282.5V249.29h1V282.5ZM625 282.5V253.62h1V282.5ZM627 282.5V252.1h1V282.5ZM628 282.5V265.32h2V282.5ZM630 282.5V267.3h1V282.5ZM632 282.5V269.35h1V282.5ZM634 282.5V275.36h1V282.5ZM636 282.5V274.37h1V282.5ZM637 282.5V256.36h2V282.5ZM639 282.5V259.09h1V282.5ZM641 282.5V247.16h1V282.5ZM643 282.5V235.38h1V282.5ZM645 282.5V252.1h1V282.5ZM646 282.5V260.46h2V282.5ZM648 282.5V265.78h1V282.5ZM650 282.5V266.54h1V282.5ZM652 282.5V260.46h1V282.5ZM654 282.5V257.42h1V282.5ZM655 282.5V247.16h2V282.5ZM657 282.5V247.16h1V282.5ZM659 282.5V268.44h1V282.5ZM661 282.5V253.62h1V282.5ZM663 282.5V275.96h1V282.5ZM664 282.5V273.38h2V282.5ZM666 282.5V274.37h1V282.5ZM668 282.5V272.24h1V282.5ZM670 282.5V272.24h1V282.5ZM672 282.5V269.35h1V282.5ZM673 282.5V273.38h2V282.5ZM675 282.5V270.34h1V282.5ZM677 282.5V268.44h1V282.5ZM679 282.5V271.33h1V282.5ZM681 282.5V275.36h1V282.5ZM682 282.5V263.5h2V282.5ZM684 282.5V274.37h1V282.5ZM686 282.5V271.33h1V282.5ZM688 282.5V274.37h1V282.5ZM690 282.5V271.33h1V282.5ZM691 282.5V274.37h2V282.5ZM693 282.5V278.47h1V282.5ZM695 282.5V279.46h1V282.5ZM697 282.5V280.37h1V282.5ZM698 282.5V279.46h2V282.5ZM706 282.5V280.37h1V282.5ZM707 282.5V272.24h2V282.5ZM709 282.5V261.37h1V282.5ZM711 282.5V276.42h1V282.5ZM713 282.5V277.18h1V282.5ZM715 282.5V278.47h1V282.5ZM716 282.5V281.36h2V282.5ZM718 282.5V281.36h1V282.5ZM720 282.5V271.33h1V282.5ZM722 282.5V271.33h1V282.5ZM724 282.5V269.35h1V282.5ZM725 282.5V268.44h2V282.5ZM727 282.5V269.35h1V282.5ZM729 282.5V264.34h1V282.5ZM731 282.5V253.62h1V282.5ZM733 282.5V252.1h1V282.5ZM734 282.5V256.36h2V282.5ZM736 282.5V262.21h1V282.5ZM738 282.5V258.48h1V282.5ZM740 282.5V262.21h1V282.5ZM742 282.5V274.37h1V282.5ZM743 282.5V276.42h2V282.5Z" fill="#f00" fill-opacity="0.5"/>
</g>
<g clip-path="url(#c2)">
<polyline points="56.5,394.73 57.25,382.85 58.75,376.6 60.62,372.23 62.5,369.1 64.38,367.85 66.25,366.35 68.12,364.97 70,365.1 70.62,367.23 71.5,375.35 72.5,386.6 73.75,395.35 75.62,397.85 77.5,400.35 79.38,402.85 81.25,405.35 83.12,404.97 85,405.6 86.25,405.97 88.12,407.85 90,408.47 91.88,408.23 93.5,408.73 95,406.6 96,401.6 97.5,392.85 99.38,382.85 101.25,374.73 102.88,370.35 104.38,368.73 105.25,371.6 106.25,375.35 107.5,374.35 108.75,374.73 110,375.35 111.25,375.35 112.5,376.35 113.5,377.23 114.38,382.85 115.25,390.97 116.5,395.97 118.12,399.97 120,401.6 121.88,402.47 123.75,404.1 125.62,405.97 127.5,407.85 129.38,409.97 130,410.35 131.5,409.1 133.12,409.35 135,409.47 136.88,409.35 138.12,406.6 139,402.23 140.25,395.35 141.88,386.6 143.75,377.85 145.62,371.6 147.5,367.6 149.38,365.1 150,364.35 151.25,364.1 151.88,369.1 152.75,374.73 154.38,375.1 156,377.85 156.88,384.1 158.12,394.1 160,400.35 161.88,403.47 163.75,405.35 165.62,405.73 166.88,408.47 168.75,409.35 170.62,410.35 172.5,411.85 174.38,413.1 176.25,414.1 178.12,413.85 180,410.35 181.88,404.1 183.12,397.85 184.38,390.35 185.62,385.97 187.5,383.47 190,380.35 192.5,376.6 194.38,373.47 196,374.47 197.5,373.85 199.38,374.1 200.38,379.1 201.88,387.85 203.12,392.85 205,397.85 206.88,401.6 208.75,404.1 210.62,405.97 212.5,407.23 214.38,408.85 215.62,411.6 217.5,414.35 219.38,415.35 221.25,415.35 223.12,413.85 224.38,407.85 225.62,401.6 226.88,394.1 228.12,386.6 229.38,380.97 230.62,378.1 232.25,376.85 234,376.85 235.62,375.73 237.5,372.85 239.38,370.35 241.25,369.35 242.75,369.73 243.75,375.35 245,384.1 246.25,392.85 248.12,399.73 250,404.73 251.5,406.6 253.12,405.73 255,405.97 256.88,407.47 258.75,408.73 260.62,409.73 262.5,410.47 264.38,410.6 266,409.73 267.5,407.23 268.75,402.85 270,396.6 271.5,389.1 272.88,382.23 274.38,376.6 276.25,373.47 278.12,370.35 280,367.6 281.88,365.97 283.75,365.73 285,366.85 286,369.73 286.62,377.85 287.25,386.6 287.88,391.85 289.38,394.73 291.25,399.73 293.12,403.47 295,407.23 296.88,410.35 298.75,411.6 300.62,411.23 302.5,409.73 304,409.1 305.62,411.6 307.25,414.35 308.75,415.1 310,413.85 311.25,410.97 313.12,404.1 315,396.6 316.88,390.35 318.5,384.73 320.25,380.35 321.88,376.6 323.5,374.1 325,375.97 326.88,377.85 328.12,380.35 329.38,386.6 330.62,395.35 331.88,399.73 333.75,404.1 335.62,407.23 337.5,409.73 339.38,411.35 341.25,412.47 343.12,411.6 345,411.6 346.88,410.35 348.75,410.73 350,410.97 351.88,412.23 353.5,411.35 355,407.85 356.88,403.47 358.75,400.97 360.25,401.23 361.5,401.6 362.5,397.85 364.38,394.73 366.25,392.23 368.12,390.97 370,389.73 371.88,389.47 372.5,395.35 373.5,401.6 375,407.23 376.88,411.6 378.75,414.1 380.62,415.35 382.75,415.97 384,412.85 385.62,410.97 387.5,410.97 389.38,411.23 391.88,411.97 393.75,411.23 395.62,410.35 397.25,409.73 398.12,404.1 399.38,396.6 400.62,390.97 402.5,387.23 404.38,385.97 406.25,386.35 408.12,386.35 410,387.6 411.88,388.85 413.75,390.35 415.25,393.47 416.88,399.1 418.5,400.97 420,404.1 421.88,406.35 423.75,409.1 424.75,409.73 426.25,407.23 428.12,406.97 430,407.85 432.5,408.1 435,408.47 437.5,409.35 440,409.73 442.25,409.47 443.75,407.23 445.62,403.47 447.5,400.35 448.75,400.97 450,402.85 451.25,403.47 452.75,400.35 454.38,393.47 455.62,389.1 456.88,387.6 458.12,389.1 459.38,396.6 460.62,402.85 461.88,406.85 463.75,406.6 465.62,409.1 467.25,411.35 468.75,409.73 470.62,408.85 472.5,410.73 474.38,412.6 476.25,413.23 478.12,413.85 480,414.47 481.88,414.1 483.75,412.23 485.62,409.1 487.5,406.6 489,403.47 490.25,399.1 491.88,393.47 493.5,389.73 495.25,387.85 497.25,387.6 499.38,388.47 501,391.6 502.5,396.6 504.38,402.85 505,405.35 506.88,407.85 508.75,411.6 510.62,412.85 512.5,414.1 514.38,415.6 516.25,416.85 518.12,417.23 519.38,415.6 521,415.73 522.5,417.85 524.75,419.73 526.25,417.23 527.5,412.85 529,406.6 530.62,399.1 532.25,392.23 533.75,387.23 535.62,384.35 537.5,384.1 539.38,385.35 541.25,387.23 542.75,387.85 544,392.23 545.62,397.85 547.25,402.23 548.75,404.73 550,406.6 551.88,408.47 553.75,410.1 555.62,412.23 557.25,413.47 558.75,412.6 560.62,413.85 562.5,414.73 564.38,414.73 566.25,415.35 568.12,415.97 569.75,416.6 571.25,415.97 572.75,413.85 574.38,409.73 576.25,406.35 577.5,406.85 578.75,408.47 580,402.85 581.25,396.6 582.25,393.85 583.75,395.35 585,400.35 586.25,405.35 588.12,409.73 590,412.6 591.88,413.6 593.5,413.47 595,412.85 597.5,413.47 600,414.73 601.88,415.35 603.75,414.73 605.62,413.85 607.5,414.47 609.38,415.97 611,417.47 612.5,414.73 614.38,410.73 616.25,410.97 617.75,409.73 618.75,405.35 620,400.35 621.88,396.6 623.75,393.47 625.62,391.6 627.5,391.6 629,392.6 630.62,395.35 631.62,399.1 632.5,409.73 634.38,407.47 636.25,408.47 638.12,410.35 640,412.85 641.5,414.73 643.12,412.23 645,411.6 646.88,412.85 648.75,414.73 650,417.85 651.88,417.6 653.75,416.85 655.62,411.6 657.5,406.6 659.38,399.1 661.25,392.85 663.12,389.1 665,385.6 666.88,386.85 668.75,386.6 670.62,387.6 672.5,389.1 674,390.35 675,396.6 676,401.6 677.5,404.1 679,406.6 680.62,406.6 682.5,406.35 683.75,407.23 684.75,409.35 686.25,408.73 688.12,408.23 690,410.35 691.88,412.6 693.75,414.1 695.38,415.73 697.25,413.85 698.75,409.1 700,403.47 701.25,397.85 702.5,393.47 704.38,390.35 706.25,388.47 708.12,387.85 710,385.6 711.88,382.85 713.75,384.35 715.62,385.97 717.25,387.23 718.12,391.6 719.38,397.23 720.62,401.23 722.5,402.85 724.38,405.97 726.25,408.85 728.12,410.35 730,411.35 731.88,411.85 733.75,410.73 736.25,411.23 738.75,411.35 740.62,410.35 742.5,407.23 744.5,403.47" fill="none" stroke="#f00" stroke-width="1.45" stroke-linejoin="round"/>
</g>
<g clip-path="url(#c3)">
<polyline points="56.5,515.23 57.25,523.35 58.75,529.6 60.62,533.35 62.5,535.6 64.38,536.47 66.25,537.35 68.12,538.35 70,538.6 71,534.6 72.25,525.85 73.75,519.6 75.62,518.1 77.5,516.85 79.38,514.6 81.25,512.73 83.12,513.35 85,513.73 86.25,513.73 88.12,511.73 90,512.35 91.88,512.97 93.75,512.97 95.25,514.6 96.88,518.35 98.75,522.35 100.62,527.1 102.5,532.1 104.38,534.35 105.62,529.6 106.88,528.73 108.12,528.97 110,527.1 111.88,526.47 113.5,525.47 114.38,519.6 115.62,513.97 117.5,510.6 119,509.35 120.62,510.6 122.5,510.85 124.38,510.6 126.25,509.35 128.12,508.97 129.38,508.1 131.25,509.35 133.12,509.85 135,510.23 136.88,510.47 138.5,512.1 140,516.47 141.88,520.85 143.75,527.1 145.62,532.1 147.5,534.85 149.38,536.47 150,536.85 151.25,537.1 152.25,532.1 153.12,528.35 154.75,527.1 156.25,525.47 157.25,519.6 158.5,513.35 160,509.6 161.88,507.35 163.75,506.47 165.62,506.47 167.5,505.23 169.38,504.6 171.25,503.97 173.75,503.85 175.62,504.6 177.5,505.23 179.75,506.1 181.5,508.35 183.12,512.1 184.38,517.1 185.38,520.6 187.5,521.85 189.38,523.1 191.25,524.6 193.12,526.23 194.38,528.1 196,526.47 197.75,526.47 199.38,526.73 200.62,522.73 202.25,517.73 204,513.97 206,510.85 208.12,508.73 210,507.73 211.88,506.1 213.75,505.23 215.62,503.97 217.5,503.35 219.38,503.73 221.25,504.6 223.12,505.85 225,508.97 226.88,512.73 228.12,518.35 229.38,522.73 230.62,525.85 231.88,526.73 233.75,525.6 235.62,525.6 237.25,527.73 239,529.35 241,530.85 242.5,531.47 243.75,527.1 245,522.1 246.25,516.47 248.12,511.47 250,508.35 251.5,506.85 253.12,507.47 255,507.97 256.88,507.97 258.75,506.47 260.62,504.85 262.5,504.23 264.38,504.6 266.25,505.23 268.12,507.73 270,511.47 271.5,517.1 273.12,523.35 274.75,527.35 276.88,529.35 278.75,531.23 280.62,532.73 282.5,533.6 284.38,533.35 286,531.47 286.62,524.6 287.5,516.47 289.38,513.35 291,508.97 293.12,506.85 295,505.6 296.88,504.6 298.5,504.6 300,505.85 301.88,507.35 303.75,507.1 305.62,504.6 307.5,503.97 309.38,504.23 311.25,505.85 313.12,509.6 315,513.97 316.88,518.35 318.75,522.1 320.62,525.23 322.5,527.73 323.5,528.35 325,526.47 326.88,524.6 328.5,521.47 329.75,515.85 331,510.85 332.5,507.73 334.38,505.85 336.25,504.97 338.12,503.97 340,503.73 341.88,503.97 343.75,504.35 345.62,506.47 347.5,508.35 349.38,508.6 350,508.1 351.88,508.35 353.75,508.97 355.62,509.85 357.5,511.47 359.38,512.73 361.25,511.1 362.5,513.35 364.38,515.85 366.25,517.73 368.12,519.23 370,520.6 371.88,520.6 372.75,516.47 374,512.1 375.62,508.35 377.5,505.6 379.38,504.35 381.25,503.73 382.75,503.73 384.38,504.85 386.25,504.97 388.12,504.35 390,504.23 391.88,503.97 393.75,504.97 395.62,505.47 397.25,505.85 398.5,508.97 400,513.35 401.5,517.73 402.75,520.23 404.38,520.6 406,518.73 407.75,517.1 409.75,515.23 411.5,513.6 413.12,513.1 414.75,512.1 416,508.97 417.5,505.85 419.38,504.6 421.25,503.97 423.75,503.35 425.62,504.35 427.5,504.6 429.75,503.6 431.88,503.97 434,503.97 436.25,503.73 438.5,503.35 440.62,503.1 442.5,503.1 444.38,504.97 446,506.47 447.5,507.97 449,506.47 450,505.23 451.5,504.6 452.75,507.73 454.38,513.97 456,518.1 456.88,518.73 458.12,517.73 459.38,512.1 460.62,507.1 462.12,504.97 463.75,505.6 465.62,503.97 467.5,503.35 469.38,504.23 471.25,504.23 473.75,503.97 476.25,504.35 478.75,504.23 481.25,503.97 483.12,504.6 485,505.85 486.88,507.1 488.75,508.97 490.25,512.73 491.88,516.47 493.75,518.97 495.62,520.23 497.5,520.23 499.38,519.85 500.62,518.97 501.88,515.85 503.12,512.73 504.75,511.1 506.5,510.6 508.12,509.6 510,508.97 511.88,508.73 513.75,507.73 515.62,507.1 517.5,506.73 519.38,507.73 521.25,507.97 523.12,506.85 524.75,506.23 526.25,507.73 528.12,510.23 530,513.35 531.88,517.73 533.75,521.47 535.62,523.73 537.25,523.35 539,521.1 540.62,518.97 541.88,518.1 543.12,517.73 544.38,513.35 546,507.73 547.5,504.6 549,503.1 550,502.73 551.88,503.97 553.5,504.85 555.25,504.35 556.88,503.1 558.75,504.97 560.62,503.6 562.5,502.97 564.38,503.73 566.25,503.73 568.12,503.35 569.75,501.85 571.5,502.73 573.12,504.6 575,506.85 576.5,507.35 578.12,504.35 579.38,507.1 580.62,512.1 581.88,516.1 583.12,516.47 584.38,514.6 585.62,508.35 586.88,505.6 588.75,504.35 591.25,504.23 593.75,504.6 596.25,504.6 598.75,504.6 600.62,503.6 602.25,502.73 604,503.6 606,503.73 607.75,502.97 609.75,502.73 611.5,503.1 613.12,504.6 614.75,506.1 616.25,503.97 618.12,503.97 619.38,507.73 620.62,510.85 622.25,513.1 624,514.23 626,513.97 627.75,514.35 629.38,513.35 631,510.85 632.5,506.47 634,505.6 636.25,505.23 638.5,504.6 640.25,503.97 642.25,503.35 644,503.35 646,502.35 648.12,501.85 650,501.23 652.5,500.85 654.75,500.23 656.88,500.85 658.5,503.97 660.25,508.35 661.88,512.1 663.5,515.23 665,517.73 666.88,516.1 668.75,514.6 670.62,512.1 672.5,511.1 674,510.23 675,507.1 676.5,504.85 678.5,504.35 680.62,503.97 682.5,502.73 684.38,501.73 686.25,501.47 688.12,503.1 690,503.35 692.5,503.35 695,503.73 697.5,503.97 700,505.23 701.5,507.73 702.75,510.23 704.38,511.85 706.25,512.73 708.12,513.1 709.75,514.6 711.5,516.85 713.12,514.85 715,512.73 717.25,511.23 718.5,506.47 720,504.6 721.88,503.6 723.75,502.73 726.25,502.35 728.75,502.1 731.25,502.1 733.75,502.47 736.25,501.85 738.75,501.23 741.25,501.85 744.5,503.6" fill="none" stroke="#008000" stroke-width="1.45" stroke-linejoin="round"/>
</g>
<g clip-path="url(#c4)">
<polyline points="56.5,649.47 58.12,650.1 59.75,655.1 61.25,662.6 63.12,668.23 64.75,673.85 66.88,673.6 68.75,673.23 70.25,671.97 71.5,668.23 73.12,665.35 74.75,664.47 76,664.23 77.25,659.47 78.75,656.97 81,654.73 82.5,658.85 84.38,662.6 86.25,664.1 88.12,662.85 90,663.23 91.88,660.73 93.12,655.73 94.38,652.6 96,651.97 97.5,653.23 99.38,655.73 101.25,656.97 103.12,658.85 104.38,666.35 106,667.6 107.75,670.1 109.75,672.97 111.5,676.97 113.12,678.23 114.38,672.6 115.62,668.23 117.25,664.47 118.75,661.97 120.62,660.73 122.5,659.1 124.38,657.35 125.62,661.35 127.25,665.1 129,666.35 130.62,665.73 132.25,664.1 133.75,663.23 135.25,662.6 136.5,657.6 138.12,654.47 139.75,653.6 141.25,654.47 143.12,656.35 144.75,657.85 146,659.47 147.25,667.6 148.75,674.47 150,677.6 151.25,681.35 153.12,682.6 154.75,683.6 156.25,681.97 157.25,677.6 158.5,673.23 160,670.73 161.88,668.85 163.75,666.97 165.25,664.1 166.88,663.23 168.12,665.1 169.38,667.35 171,667.85 172.75,669.85 174.38,668.85 176.25,670.35 178.12,669.47 179,665.1 180,661.35 181.88,660.73 183.5,661.1 185,663.23 186.88,664.47 189,666.35 190.25,673.85 191.88,678.85 193.75,684.47 195.62,688.85 197.5,691.35 199.38,691.35 200.62,686.97 202.25,682.6 204,679.47 206,676.35 207.75,673.23 209.38,670.35 210.62,669.47 211.88,671.97 213.5,674.1 215.25,674.47 217.5,672.6 219.38,673.23 221.25,673.23 222.5,668.23 223.75,664.47 225,663.23 226.88,664.85 228.75,666.35 230.62,667.6 232.25,668.85 233.75,675.1 235.62,681.35 237.5,687.6 239.38,693.85 241,697.6 242.75,697.6 244,691.35 245.25,685.1 246.88,678.85 248.5,672.6 250,668.85 251.5,666.1 253.5,664.23 255,669.47 256.88,673.6 258.75,674.1 260.62,671.35 262.5,670.35 264.38,673.23 265.62,667.6 267.25,663.85 268.75,662.85 270.62,663.85 272.5,665.1 274.38,666.6 275.62,667.85 276.88,676.35 278.75,683.23 280.62,688.23 282.5,691.1 284.38,692.23 286,690.35 287.25,683.85 288.75,676.97 290.62,670.73 292.5,666.97 294.38,663.23 295.62,661.1 296.88,660.35 298.12,663.85 299.75,668.85 301.25,671.35 302.5,671.6 304.38,669.47 306,666.97 307.25,666.35 308.5,661.97 310,657.6 311.5,655.97 313.12,656.1 314.75,658.85 316.5,660.1 318.12,661.97 319.38,671.35 321,679.47 322.5,684.47 324,686.6 326,688.23 327.5,688.85 329,686.97 330.62,680.1 332.25,673.85 333.75,670.73 335.62,669.47 336.88,666.35 338.12,664.1 339.75,663.85 341.25,671.35 343.12,675.1 345,677.6 346.88,677.6 348.75,677.85 350,676.35 351.25,671.35 352.5,666.35 354,663.85 356,663.6 357.75,662.6 359.75,662.6 361.5,661.73 362.5,665.73 363.75,670.73 365.25,674.47 366.88,678.23 368.75,682.6 370.62,686.97 372.25,689.1 374,686.1 376,682.6 377.75,678.23 379.75,673.23 381.5,669.47 382.88,667.97 384,671.35 385.62,675.1 387.25,676.6 389,675.73 390.62,675.35 392.25,676.35 393.75,677.35 395.25,673.23 396.88,671.6 398.75,671.1 400.62,671.97 402.5,672.6 404.38,672.85 405.62,677.6 406.88,682.6 408.5,687.35 410,690.1 411.88,692.6 413.75,693.85 415.25,691.97 416.25,687.6 417.5,682.6 419,680.1 421,678.23 422.75,676.97 424.38,675.73 426,674.1 427.5,679.85 429.38,680.35 431.5,682.6 432.75,676.97 434,679.47 436,679.47 437.5,676.35 439,671.97 440.62,667.6 442.25,664.85 444,665.35 446,665.35 447.5,666.1 448.75,672.6 450,676.97 451.25,678.23 453.12,683.85 455,687.6 456.5,689.85 458.12,686.97 459.75,680.1 461.5,676.1 463.5,675.1 465.25,673.23 467.25,670.35 469,669.1 470.25,673.85 471.88,677.6 473.75,678.6 476,678.6 478.12,678.23 479.75,677.35 481.25,670.1 482.75,668.23 484.75,666.6 486.88,665.97 488.75,666.97 490.62,668.85 491.88,676.35 493.12,682.6 494.75,686.97 496.5,690.1 498.5,692.97 500,693.47 501.25,693.23 502.5,687.6 504,681.97 505.62,678.85 507.5,675.73 509.75,671.97 511.88,670.73 513.75,675.73 515.62,679.47 517.5,680.73 519.38,681.97 521.25,682.97 522.75,682.6 524,676.97 525.25,674.1 526.88,673.85 528.75,675.1 530.62,676.6 532.5,677.85 534,678.85 535.62,686.35 537.25,691.35 539,694.47 541,696.6 542.75,698.85 544.38,698.23 545.62,692.6 547.25,686.35 548.75,683.23 550,681.35 551.5,679.47 553.5,676.35 555.25,674.1 556.5,679.47 558.12,685.73 560,687.6 561.5,686.35 563.12,683.23 564.75,681.35 566.25,682.6 567.5,676.97 569,670.73 570.62,667.35 572.5,665.1 574.38,664.47 576.25,664.47 577.25,664.1 578.5,669.47 580,675.1 581.88,681.35 583.75,684.85 585.62,682.6 587.5,681.1 588.75,676.35 590.25,672.6 591.88,671.6 593.5,671.6 595.25,669.47 596.88,667.6 598.5,666.35 599.75,670.1 601.5,674.47 603.12,675.35 605,675.73 606.88,674.85 608.12,674.47 609.38,675.73 610.62,668.85 612.25,664.47 614,662.35 616,661.35 618.12,662.35 620,664.1 621.25,671.35 622.75,676.35 624.75,680.73 626.5,683.85 628.5,684.73 630.25,684.47 631.5,683.23 632.5,678.85 634,675.73 635.62,674.1 637.25,673.23 639,670.73 640.62,668.6 641.88,666.97 643.12,671.35 644.75,674.47 646.25,675.1 648.12,673.85 650,671.35 652.25,670.73 653.75,664.47 655.62,662.85 657.5,662.6 659.38,665.35 661.25,667.6 663.12,669.47 664.75,678.23 666.88,683.85 668.75,687.6 670.62,690.35 672.25,691.1 673.75,688.85 675,682.6 676.5,676.97 678.12,674.85 679.75,674.85 681,675.73 682.5,670.73 684,672.6 686,675.73 688.12,679.47 690,676.35 691.88,673.23 693.75,674.85 695.25,676.35 696.88,669.47 698.75,666.97 700.62,667.35 702.5,669.47 704.38,671.97 706.25,675.1 707.75,681.97 709.75,688.85 711.5,694.47 713.5,698.23 715.25,699.85 717.25,699.47 718.5,693.85 720,686.97 721.5,683.85 723.5,682.6 725.25,681.1 727.5,678.85 729.38,681.97 731.25,683.85 733.5,685.47 735.62,684.23 737.5,683.85 738.75,683.6 740.25,679.47 741.88,677.97 744.5,678.85" fill="none" stroke="#000" stroke-width="1.45" stroke-linejoin="round"/>
</g>
<g clip-path="url(#c5)">
<path d="M56.5 855.5L56.5 845.35L57.75 840.97L59.38 839.73L61.25 840.35L63.12 841.35L65 842.23L66.25 844.73L67.5 847.85L68.75 850.1L70.62 850.73L72.25 851.35L73.75 849.1L75.62 847.23L76.88 843.47L77.75 842.85L79.38 843.85L81.25 844.47L83.12 842.85L85 840.97L86.5 839.73L88.12 842.85L89.75 840.35L91.5 837.85L93.12 837.23L94.75 836.6L96.25 835.1L97.5 832.23L99.12 830.73L100.62 832.85L102.25 836.6L103.75 841.6L105.25 845.97L106.88 848.47L108.75 849.73L110.62 850.35L112.5 849.73L113.75 847.85L115 850.97L116.25 851.35L118.12 849.1L119.38 845.35L120.62 843.47L122.5 843.85L124.38 844.47L126.25 844.1L128.12 843.85L130 844.47L131.88 841.97L133.75 840.97L135.62 839.73L137.5 839.1L139.38 836.6L141 833.47L142.5 832.23L143.75 834.73L145 839.1L146.5 843.47L148.12 845.97L150 847.23L151.25 846.6L152.25 842.85L153.12 840.35L154.38 843.47L155.62 849.1L157.5 852.6L159.38 853.47L161.25 852.23L163.12 849.1L165 845.97L166.88 846.35L168.75 844.73L170.62 847.23L172.5 848.47L174.38 849.1L176.25 846.6L178.12 844.73L180 843.85L181.88 843.85L183.5 846.6L185 846.35L186.88 847.85L188.75 849.1L190.62 849.73L192.5 847.85L194.38 849.1L196.25 847.85L198.12 850.1L200 852.23L201.88 853.47L203.75 853.47L205.62 850.35L207.5 847.23L209.38 845.97L211.25 847.23L213.12 849.73L215 851.6L216.25 852.23L218.12 849.1L220 847.85L222.25 847.6L223.75 845.35L225 843.47L226.88 843.85L229 842.85L230.62 845.35L232.5 849.1L234.38 851.6L236.25 850.97L238.12 849.73L240 851.6L241.88 853.47L243.75 852.85L245.62 852.85L246.88 850.35L247.75 842.85L249 842.23L250 843.47L251.5 847.85L253.12 846.6L255 844.1L256.88 840.97L258.5 843.47L260 847.23L261.88 850.97L262.5 851.85L263.75 849.1L265.62 847.85L267.5 847.23L269.38 845.97L271.25 844.73L273.12 843.47L275 841.6L276.25 840.97L277.75 844.1L279.38 846.85L281.25 847.85L283.12 847.6L285 847.6L286.88 847.85L288.12 847.85L289.38 852.85L290.62 850.97L292.25 849.73L293.75 847.85L295.62 846.85L297.5 847.85L299.38 845.35L301 843.47L302.5 842.23L304 841.6L305 844.1L306.88 842.23L308.75 840.35L310 839.1L311.25 834.1L312.5 828.47L313.75 824.73L315.25 823.47L316.5 825.35L317.75 829.1L319.38 833.47L321.25 836.6L323.12 837.85L325 839.1L326.88 842.23L328.75 845.97L330.62 849.1L332.5 850.35L334.38 851.6L336.25 850.35L338.12 850.35L340 849.1L341.88 846.6L343.75 847.23L345.62 844.73L347.5 842.23L349.38 841.6L350 841.6L351.5 839.1L353.12 837.85L355 837.23L356.5 835.97L357.75 834.73L359 836.6L360.62 838.47L362.5 839.73L364.38 840.97L366.25 840.97L368.12 842.85L370 845.97L371.88 849.1L373.75 851.85L375.62 852.23L376.88 849.73L378.5 850.35L380.25 849.1L381.88 847.23L383.5 844.73L385 843.47L386.88 844.73L388.75 846.6L390.62 845.97L392.5 845.35L394.38 844.1L396.25 844.47L398.12 841.6L399.75 839.73L401.5 840.35L403.5 840.97L405.62 842.23L407.5 843.47L409.38 842.23L411.25 839.73L413.12 841.6L414.38 846.6L415.62 850.35L417.5 852.23L419.38 851.6L421.25 849.1L423.12 847.23L425 844.73L426.5 841.6L428.12 839.73L429.38 844.73L430.62 839.1L432.25 843.47L433.75 840.35L435.62 841.6L437.5 839.73L439.38 837.85L441.25 836.6L443.12 834.73L445 833.1L446.25 832.85L448.12 835.35L450 837.23L451.88 840.35L453.75 844.73L455.62 848.47L457.25 850.1L458.75 848.47L460.25 850.97L461.88 850.35L463.5 848.47L465 850.35L466.5 850.97L468.12 849.1L469.75 845.35L471.25 841.35L473.12 840.35L475 837.85L476.88 837.23L478.75 837.85L480.62 839.73L482.25 840.1L483.75 837.85L485.62 835.35L487.25 834.47L488.75 835.97L490.62 837.85L492.5 838.47L494.38 838.23L496.25 837.23L498.12 837.85L499.75 837.23L501.25 839.1L502.5 839.73L503.75 841.6L505 839.1L506.5 836.6L508.12 835.97L509.75 834.1L511.25 833.1L513.12 833.47L515 834.1L516.88 834.73L518.75 833.85L520.62 834.1L522.5 834.73L524.38 835.1L526 833.47L527.5 830.97L529 829.97L530.62 829.47L531.88 832.85L533.12 839.1L534.38 844.73L536.25 847.85L538.12 849.35L540 848.85L541.88 846.6L543.5 845.97L545 848.47L546.88 850.35L548.75 850.73L550 850.97L551.25 845.35L552.75 841.6L554.38 840.35L556 835.35L557.5 831.6L559 829.97L560.62 834.73L562.5 832.23L564.38 830.35L566.25 832.85L568.12 835.35L570 837.85L571.88 836.6L573.75 835.97L575.62 839.1L577.5 842.23L579.38 839.1L581 837.85L582.5 839.73L584.38 843.47L586 844.73L587.5 842.23L589.38 842.85L591.25 840.35L593.12 838.47L595 837.6L596.88 837.23L598.75 837.6L600.62 838.47L602.5 839.73L604.38 841.6L606.25 843.47L608.12 844.47L610 844.73L611.88 843.47L613.75 842.23L615.62 842.85L617.5 842.23L619.38 840.35L621 839.73L622.75 841.6L624.38 839.1L626 837.23L627.5 837.85L629 837.85L630.62 842.85L631.88 847.85L633.75 849.73L635.62 849.1L637.5 850.1L639.38 850.35L641.25 849.73L643.12 847.23L645 847.6L646.88 849.1L648.75 849.35L650 848.85L651.88 848.1L653.5 848.47L654.75 849.73L656.25 845.97L657.75 841.6L659.38 838.47L661.25 835.97L662.75 835.1L664.38 836.6L666.25 839.1L668.12 842.23L669.75 844.35L671.25 844.73L672.75 845.35L674.38 847.23L676 850.35L677.5 849.1L679 846.6L680.62 846.85L682.25 847.23L683.5 847.85L684.75 852.85L685.62 846.6L686.88 843.47L688.5 842.85L690 840.97L691.88 842.85L693.75 844.73L695.62 846.35L697.5 844.73L699.38 843.47L701.25 842.85L703.12 841.35L705 842.23L706.88 842.85L708.75 843.47L710.62 843.85L712.5 843.85L714.38 844.73L716.25 846.6L717.5 849.1L718.5 853.1L720 853.47L721.88 852.85L723.75 852.23L725.62 851.6L727.5 851.6L729.38 850.97L731.25 850.35L732.5 849.97L734.38 850.97L736.25 851.85L738.12 851.35L740 850.6L741.88 850.97L744.5 851.85L744.5 855.5Z" fill="url(#wg)"/>
<polyline points="56.5,834.73 58.12,835.35 60,837.85 61.88,839.73 63.75,840.97 65.62,841.6 67.5,844.1 69.38,846.6 71.25,847.85 72.5,847.6 74.38,843.47 76.25,838.47 78.12,835.35 80,836.6 81.88,836.35 83.75,834.73 85.62,832.23 86.88,825.35 88.12,821.6 89.38,825.35 90.62,828.47 92.5,829.35 94.38,827.85 96,823.47 97.5,816.6 99,820.35 100.62,826.6 102.25,832.85 104,839.1 105.62,844.73 107.5,847.6 109.38,848.47 111.25,849.1 113.12,848.47 115,847.85 116.25,846.6 117.5,842.85 118.75,837.23 120.62,834.73 122.5,835.97 124.38,836.35 126.25,836.6 128.12,836.35 130,834.73 131.88,833.47 133.75,832.85 135.62,831.6 137.5,830.35 139,827.23 140.62,821.6 142.25,823.47 143.5,829.1 145,836.6 146.88,841.6 148.75,843.85 150,844.73 151.25,842.85 152.5,837.85 153.5,837.23 155,842.85 156.88,849.1 158.75,851.6 160.62,850.35 162.5,846.6 164,841.6 165.62,839.73 167.5,838.47 169.38,837.85 171.25,841.6 173.12,842.85 175,839.1 176.88,837.23 178.5,836.97 180.62,838.47 182.25,841.6 184,843.47 186.25,844.73 188.75,845.97 191.25,847.85 193.75,849.1 196.25,849.73 198.75,850.35 201.25,851.85 203.12,851.6 205,846.6 206.88,840.35 208.75,837.85 210.62,838.47 212.5,842.85 214.38,847.85 216.25,849.1 218.12,844.1 220,841.6 221.88,840.97 223.75,840.97 225.62,840.35 227.5,838.47 229,837.6 230.62,841.6 232.5,846.6 234.38,849.1 236.25,847.85 238.12,848.47 240.62,849.73 243.12,850.35 245.62,849.73 247.25,841.6 248.12,835.35 249.38,837.85 250,839.73 251.25,841.6 253.12,840.35 255,837.85 256.88,834.73 258.12,837.85 260,844.1 261.88,848.47 263.12,845.35 264.38,842.23 266.25,842.85 268.12,843.47 270,843.47 271.88,840.35 273.75,837.47 275.62,839.1 277.5,842.85 279.38,845.35 281.25,845.97 283.12,845.1 285,844.73 286.88,841.6 288.12,840.97 289.38,845.35 291,848.47 292.5,845.35 294.38,839.1 296.25,840.35 298.12,841.6 300,839.1 301.5,836.6 302.5,829.1 303.5,817.85 304.75,809.1 306.25,805.97 308.12,805.35 310,806.6 311.88,809.1 313.75,810.97 315.62,812.85 317.25,818.47 318.5,825.35 320,831.6 321.88,835.35 323.75,836.6 325.62,834.1 327.5,836.6 329.38,840.35 331.25,843.47 333.12,846.6 335,848.47 336.88,845.35 338.75,843.47 340.62,842.23 342.5,840.97 344,840.35 345,830.35 346.25,817.85 347.5,812.85 349.38,811.6 350,808.47 351.25,805.97 352.5,805.35 353.75,811.6 355.25,819.1 356.88,825.35 358.75,829.1 360.62,832.23 362.5,834.73 364.38,835.97 366.88,837.23 368.75,839.1 370.62,843.47 372.5,847.85 374.38,849.73 376.25,846.6 378.12,842.85 380,844.73 381.88,840.35 383.75,837.85 386.25,840.35 388.75,840.97 391.25,839.73 393.75,838.47 396.25,836.6 398.12,834.73 399.38,833.47 401.25,835.97 403.75,837.23 406.25,838.47 408.12,839.1 410,835.97 411.5,834.1 413.12,836.6 414.38,842.85 416.25,849.1 418.12,850.35 420,847.85 421.88,844.73 423.75,840.35 425.62,835.35 427.5,830.97 429,830.35 430,836.6 431.25,829.73 432.75,836.6 434.38,832.85 436.25,830.97 438.12,829.1 440,827.23 441.88,825.35 443.75,823.47 445.25,822.85 446.88,826.6 448.75,830.35 450,831.6 451.5,835.35 453.12,841.6 455,845.35 456.88,847.85 458.75,847.6 460.62,847.85 462.5,844.73 464,843.47 465.62,846.6 467.5,843.47 469,835.35 470.25,825.35 471.88,820.35 473.75,817.85 475.62,815.97 477.25,817.23 478.75,820.35 480.62,822.23 482.5,823.47 484.38,824.73 486.25,825.35 488.12,827.85 489.75,832.85 491.25,836.6 493.12,837.23 495,837.47 496.88,836.6 498.75,836.23 500.38,835.97 501.5,831.6 502.75,825.35 504.38,819.1 506,814.73 507.75,812.85 509.75,812.47 511.5,813.47 513.5,812.85 515.25,812.23 517.25,812.85 519,814.35 521,816.6 522.75,815.97 524.75,815.97 526.5,817.23 528.5,818.47 530,820.97 531.25,825.35 532.5,832.23 534,840.35 535.62,845.97 537.5,847.85 539.38,847.23 541.25,843.47 543.12,840.35 545,839.1 546.5,837.85 548.12,834.1 549.38,830.35 550,830.35 551.25,823.47 552.75,819.1 554.38,818.47 556,819.73 557.5,814.1 559,808.47 560.62,814.1 561.88,814.73 563.75,812.85 565.62,811.6 566.88,811.6 568.12,816.6 569.75,824.73 571.25,827.23 572.75,824.73 574.38,828.47 576,833.47 577.75,836.6 579.38,834.1 581,832.23 582.75,835.35 584.75,838.47 586.5,839.73 588.5,835.97 590.25,833.47 591.88,829.1 593.5,824.1 595.25,819.73 596.88,815.97 598.5,815.97 600,821.6 601.88,825.35 603.5,825.97 605,823.47 606.5,824.1 608.12,829.1 609.75,833.47 611.25,834.1 613.12,832.85 615,834.73 617.25,836.35 619,834.73 620.62,833.1 622.5,834.1 624.38,832.85 626.25,832.23 628.12,833.1 630,835.35 631.25,840.35 633.12,843.47 635,844.1 636.88,845.97 638.75,846.6 640.62,845.35 642.5,843.47 644.38,842.23 646.25,843.85 648.12,844.1 650,843.47 651.88,842.85 653.75,844.35 655.25,844.73 656.88,840.35 658.5,834.1 660.25,830.35 661.88,829.1 663.5,829.35 665.25,831.6 666.88,834.1 668.5,837.85 670,840.35 671.88,840.97 673.75,841.6 675.62,844.73 676.88,844.1 678.5,840.35 679.75,838.47 681.25,840.97 682.75,843.47 684,849.1 685.25,842.85 686.5,839.1 688.12,837.23 690,836.35 691.88,836.23 693.75,836.85 695.62,837.23 697.5,836.6 698.75,840.35 700,839.1 701.88,836.6 703.75,839.1 705.62,840.1 707.5,840.35 709.38,840.6 711.25,841.35 713.12,840.97 714.75,842.85 716.25,845.35 717.75,848.47 719,850.97 720.62,850.97 722.5,850.35 724.38,848.47 726.25,848.23 728.12,848.23 730,847.23 731.88,844.97 733.5,845.97 735,847.85 736.88,847.85 738.75,847.23 740.62,848.1 742.5,849.73 744.5,850.35" fill="none" stroke="#f00" stroke-width="1.25" stroke-linejoin="round" stroke-dasharray="4.6 2.0"/>
<polyline points="56.5,845.35 57.75,840.97 59.38,839.73 61.25,840.35 63.12,841.35 65,842.23 66.25,844.73 67.5,847.85 68.75,850.1 70.62,850.73 72.25,851.35 73.75,849.1 75.62,847.23 76.88,843.47 77.75,842.85 79.38,843.85 81.25,844.47 83.12,842.85 85,840.97 86.5,839.73 88.12,842.85 89.75,840.35 91.5,837.85 93.12,837.23 94.75,836.6 96.25,835.1 97.5,832.23 99.12,830.73 100.62,832.85 102.25,836.6 103.75,841.6 105.25,845.97 106.88,848.47 108.75,849.73 110.62,850.35 112.5,849.73 113.75,847.85 115,850.97 116.25,851.35 118.12,849.1 119.38,845.35 120.62,843.47 122.5,843.85 124.38,844.47 126.25,844.1 128.12,843.85 130,844.47 131.88,841.97 133.75,840.97 135.62,839.73 137.5,839.1 139.38,836.6 141,833.47 142.5,832.23 143.75,834.73 145,839.1 146.5,843.47 148.12,845.97 150,847.23 151.25,846.6 152.25,842.85 153.12,840.35 154.38,843.47 155.62,849.1 157.5,852.6 159.38,853.47 161.25,852.23 163.12,849.1 165,845.97 166.88,846.35 168.75,844.73 170.62,847.23 172.5,848.47 174.38,849.1 176.25,846.6 178.12,844.73 180,843.85 181.88,843.85 183.5,846.6 185,846.35 186.88,847.85 188.75,849.1 190.62,849.73 192.5,847.85 194.38,849.1 196.25,847.85 198.12,850.1 200,852.23 201.88,853.47 203.75,853.47 205.62,850.35 207.5,847.23 209.38,845.97 211.25,847.23 213.12,849.73 215,851.6 216.25,852.23 218.12,849.1 220,847.85 222.25,847.6 223.75,845.35 225,843.47 226.88,843.85 229,842.85 230.62,845.35 232.5,849.1 234.38,851.6 236.25,850.97 238.12,849.73 240,851.6 241.88,853.47 243.75,852.85 245.62,852.85 246.88,850.35 247.75,842.85 249,842.23 250,843.47 251.5,847.85 253.12,846.6 255,844.1 256.88,840.97 258.5,843.47 260,847.23 261.88,850.97 262.5,851.85 263.75,849.1 265.62,847.85 267.5,847.23 269.38,845.97 271.25,844.73 273.12,843.47 275,841.6 276.25,840.97 277.75,844.1 279.38,846.85 281.25,847.85 283.12,847.6 285,847.6 286.88,847.85 288.12,847.85 289.38,852.85 290.62,850.97 292.25,849.73 293.75,847.85 295.62,846.85 297.5,847.85 299.38,845.35 301,843.47 302.5,842.23 304,841.6 305,844.1 306.88,842.23 308.75,840.35 310,839.1 311.25,834.1 312.5,828.47 313.75,824.73 315.25,823.47 316.5,825.35 317.75,829.1 319.38,833.47 321.25,836.6 323.12,837.85 325,839.1 326.88,842.23 328.75,845.97 330.62,849.1 332.5,850.35 334.38,851.6 336.25,850.35 338.12,850.35 340,849.1 341.88,846.6 343.75,847.23 345.62,844.73 347.5,842.23 349.38,841.6 350,841.6 351.5,839.1 353.12,837.85 355,837.23 356.5,835.97 357.75,834.73 359,836.6 360.62,838.47 362.5,839.73 364.38,840.97 366.25,840.97 368.12,842.85 370,845.97 371.88,849.1 373.75,851.85 375.62,852.23 376.88,849.73 378.5,850.35 380.25,849.1 381.88,847.23 383.5,844.73 385,843.47 386.88,844.73 388.75,846.6 390.62,845.97 392.5,845.35 394.38,844.1 396.25,844.47 398.12,841.6 399.75,839.73 401.5,840.35 403.5,840.97 405.62,842.23 407.5,843.47 409.38,842.23 411.25,839.73 413.12,841.6 414.38,846.6 415.62,850.35 417.5,852.23 419.38,851.6 421.25,849.1 423.12,847.23 425,844.73 426.5,841.6 428.12,839.73 429.38,844.73 430.62,839.1 432.25,843.47 433.75,840.35 435.62,841.6 437.5,839.73 439.38,837.85 441.25,836.6 443.12,834.73 445,833.1 446.25,832.85 448.12,835.35 450,837.23 451.88,840.35 453.75,844.73 455.62,848.47 457.25,850.1 458.75,848.47 460.25,850.97 461.88,850.35 463.5,848.47 465,850.35 466.5,850.97 468.12,849.1 469.75,845.35 471.25,841.35 473.12,840.35 475,837.85 476.88,837.23 478.75,837.85 480.62,839.73 482.25,840.1 483.75,837.85 485.62,835.35 487.25,834.47 488.75,835.97 490.62,837.85 492.5,838.47 494.38,838.23 496.25,837.23 498.12,837.85 499.75,837.23 501.25,839.1 502.5,839.73 503.75,841.6 505,839.1 506.5,836.6 508.12,835.97 509.75,834.1 511.25,833.1 513.12,833.47 515,834.1 516.88,834.73 518.75,833.85 520.62,834.1 522.5,834.73 524.38,835.1 526,833.47 527.5,830.97 529,829.97 530.62,829.47 531.88,832.85 533.12,839.1 534.38,844.73 536.25,847.85 538.12,849.35 540,848.85 541.88,846.6 543.5,845.97 545,848.47 546.88,850.35 548.75,850.73 550,850.97 551.25,845.35 552.75,841.6 554.38,840.35 556,835.35 557.5,831.6 559,829.97 560.62,834.73 562.5,832.23 564.38,830.35 566.25,832.85 568.12,835.35 570,837.85 571.88,836.6 573.75,835.97 575.62,839.1 577.5,842.23 579.38,839.1 581,837.85 582.5,839.73 584.38,843.47 586,844.73 587.5,842.23 589.38,842.85 591.25,840.35 593.12,838.47 595,837.6 596.88,837.23 598.75,837.6 600.62,838.47 602.5,839.73 604.38,841.6 606.25,843.47 608.12,844.47 610,844.73 611.88,843.47 613.75,842.23 615.62,842.85 617.5,842.23 619.38,840.35 621,839.73 622.75,841.6 624.38,839.1 626,837.23 627.5,837.85 629,837.85 630.62,842.85 631.88,847.85 633.75,849.73 635.62,849.1 637.5,850.1 639.38,850.35 641.25,849.73 643.12,847.23 645,847.6 646.88,849.1 648.75,849.35 650,848.85 651.88,848.1 653.5,848.47 654.75,849.73 656.25,845.97 657.75,841.6 659.38,838.47 661.25,835.97 662.75,835.1 664.38,836.6 666.25,839.1 668.12,842.23 669.75,844.35 671.25,844.73 672.75,845.35 674.38,847.23 676,850.35 677.5,849.1 679,846.6 680.62,846.85 682.25,847.23 683.5,847.85 684.75,852.85 685.62,846.6 686.88,843.47 688.5,842.85 690,840.97 691.88,842.85 693.75,844.73 695.62,846.35 697.5,844.73 699.38,843.47 701.25,842.85 703.12,841.35 705,842.23 706.88,842.85 708.75,843.47 710.62,843.85 712.5,843.85 714.38,844.73 716.25,846.6 717.5,849.1 718.5,853.1 720,853.47 721.88,852.85 723.75,852.23 725.62,851.6 727.5,851.6 729.38,850.97 731.25,850.35 732.5,849.97 734.38,850.97 736.25,851.85 738.12,851.35 740,850.6 741.88,850.97 744.5,851.85" fill="none" stroke="#000" stroke-width="1.25" stroke-linejoin="round"/>
<path d="M56.5 798.2L50.12 789.73M60.09 798.2L54.79 789.02M63.69 798.2L57.31 789.73M67.28 798.2L62.3 788.84M70.87 798.2L65.25 789.21M74.46 798.2L71.54 788.01M78.06 798.2L74.96 788.06M81.65 798.2L78.91 787.96M85.24 798.2L78.43 790.08M88.83 798.2L81.34 790.7M92.43 798.2L84.67 790.97M96.02 798.2L87.9 791.39M99.61 798.2L91.26 791.67M103.2 798.2L94.63 791.97M106.8 798.2L105.69 787.66M110.39 798.2L109.28 787.66M113.98 798.2L120.51 789.85M117.58 798.2L113.95 788.24M121.17 798.2L115.87 789.02M124.76 798.2L121.49 788.12M128.35 798.2L122.27 789.52M131.95 798.2L125.42 789.85M135.54 798.2L128.73 790.08M139.13 798.2L131.64 790.7M142.72 798.2L133.54 792.9M146.32 798.2L136.08 795.46M149.91 798.2L139.32 798.57M153.5 798.2L143.13 800.4M157.1 798.2L146.86 800.94M160.69 798.2L164.31 788.24M164.28 798.2L159.47 788.76M167.87 798.2L164.25 788.24M171.47 798.2L166.99 788.59M175.06 798.2L169.44 789.21M178.65 798.2L171.56 790.32M182.24 798.2L173.06 792.9M185.84 798.2L175.4 796.36M189.43 798.2L178.93 799.68M193.02 798.2L182.74 800.76M196.61 798.2L192.14 807.81M200.21 798.2L202.05 808.64M203.8 798.2L194.62 792.9M207.39 798.2L199.27 791.39M210.99 798.2L203.36 790.84M214.58 798.2L206.34 791.53M218.17 798.2L209.49 792.12M221.76 798.2L212.49 793.06M225.36 798.2L216.78 791.97M228.95 798.2L220.06 792.43M232.54 798.2L221.95 798.57M236.13 798.2L236.13 808.8M239.73 798.2L240.65 787.64M243.32 798.2L233.36 794.57M246.91 798.2L249.48 787.91M250.51 798.2L240.9 793.72M254.1 798.2L244.14 794.57M257.69 798.2L247.36 795.82M261.28 798.2L251.32 794.57M264.88 798.2L258.8 789.52M268.47 798.2L272.95 788.59M272.06 798.2L267.58 788.59M275.65 798.2L272.03 788.24M279.25 798.2L274.77 788.59M282.84 798.2L281 787.76M286.43 798.2L289.18 787.96M290.02 798.2L285.55 788.59M293.62 798.2L291.78 787.76M297.21 798.2L291.13 789.52M300.8 798.2L294.72 789.52M304.4 798.2L298.32 789.52M307.99 798.2L301.76 789.62M311.58 798.2L305.2 789.73M315.17 798.2L308.65 789.85M318.77 798.2L312.24 789.85M322.36 798.2L315.98 789.73M325.95 798.2L319.87 789.52M329.54 798.2L324.24 789.02M333.14 798.2L326.32 790.08M336.73 798.2L327.55 792.9M340.32 798.2L335.02 789.02M343.92 798.2L339.94 788.37M347.51 798.2L343.03 788.59M351.1 798.2L341.92 792.9M354.69 798.2L344.13 797.28M358.29 798.2L347.69 797.83M361.88 798.2L351.28 798.2M365.47 798.2L354.88 797.83M369.06 798.2L358.49 797.46M372.66 798.2L362.06 797.83M376.25 798.2L376.25 787.6M379.84 798.2L373.32 789.85M383.43 798.2L375.56 791.11M387.03 798.2L378.14 792.43M390.62 798.2L381.44 792.9M394.21 798.2L384.85 793.22M397.81 798.2L388.12 793.89M401.4 798.2L391.32 794.92M404.99 798.2L394.55 796.36M408.58 798.2L397.98 798.2M412.18 798.2L401.81 800.4M415.77 798.2L405.44 800.58M419.36 798.2L412.84 789.85M422.95 798.2L416.14 790.08M426.55 798.2L419.45 790.32M430.14 798.2L423.05 790.32M433.73 798.2L426.64 790.32M437.33 798.2L430.51 790.08M440.92 798.2L437.12 788.3M444.51 798.2L440.89 788.24M448.1 798.2L444.83 788.12M451.7 798.2L453.9 787.83M455.29 798.2L444.92 800.4M458.88 798.2L448.64 800.94M462.47 798.2L457.99 788.59M466.07 798.2L458.19 791.11M469.66 798.2L465.52 788.44M473.25 798.2L468.94 788.52M476.84 798.2L472.36 788.59M480.44 798.2L475.96 788.59M484.03 798.2L479.38 788.67M487.62 798.2L483.14 788.59M491.22 798.2L486.9 788.52M494.81 798.2L494.44 787.61M498.4 798.2L498.4 787.6M501.99 798.2L501.99 787.6M505.59 798.2L505.22 787.61M509.18 798.2L505.21 788.37M512.77 798.2L508.46 788.52M516.36 798.2L511.72 788.67M519.96 798.2L514.98 788.84M523.55 798.2L518.25 789.02M527.14 798.2L521.06 789.52M530.73 798.2L523.64 790.32M534.33 798.2L526.33 791.25M537.92 798.2L528.93 792.58M541.51 798.2L538.95 787.91M545.11 798.2L543.81 787.68M548.7 798.2L546.86 787.76M552.29 798.2L549.02 788.12M555.88 798.2L551.91 788.37M559.48 798.2L555.17 788.52M563.07 798.2L558.59 788.59M566.66 798.2L561.85 788.76M570.25 798.2L564.95 789.02M573.85 798.2L569.88 788.37M577.44 798.2L573.47 788.37M581.03 798.2L576.72 788.52M584.63 798.2L579.98 788.67M588.22 798.2L583.24 788.84M591.81 798.2L586.19 789.21M595.4 798.2L588.88 789.85M599 798.2L591.9 790.32M602.59 798.2L595.09 790.7M606.18 798.2L598.3 791.11M609.77 798.2L601.65 791.39M613.37 798.2L605.01 791.67M616.96 798.2L608.38 791.97M620.55 798.2L611.98 791.97M624.14 798.2L614.54 802.68M627.74 798.2L619.38 804.73M631.33 798.2L622.15 803.5M634.92 798.2L624.96 794.57M638.52 798.2L629.34 792.9M642.11 798.2L633.43 792.12M645.7 798.2L637.13 791.97M649.29 798.2L640.11 792.9M652.89 798.2L642.37 799.49M656.48 798.2L646.52 801.83M660.07 798.2L652.19 805.29M663.66 798.2L657.14 806.55M667.26 798.2L662.28 807.56M670.85 798.2L666.88 808.03M674.44 798.2L671.7 808.44M678.04 798.2L667.44 798.57M681.63 798.2L671.05 798.94M685.22 798.2L683.02 787.83M688.81 798.2L679.37 793.39M692.41 798.2L685.31 790.32M696 798.2L685.44 797.28M699.59 798.2L689.09 799.68M703.18 798.2L698.05 807.47M706.78 798.2L705.3 808.7M710.37 798.2L710.37 808.8M713.96 798.2L722.43 804.58M717.55 798.2L725.05 805.7M721.15 798.2L711.19 794.57M724.74 798.2L715.56 792.9M728.33 798.2L719.76 791.97M731.93 798.2L723.14 792.27M735.52 798.2L726.53 792.58M739.11 798.2L730.54 791.97M742.7 798.2L733.92 792.27" stroke="#000" stroke-width="0.85" fill="none"/>
<path d="M48.07 787.02L52 789.32L50.12 789.73L49.2 791.43ZM53.09 786.08L56.71 788.84L54.79 789.02L53.68 790.59ZM55.26 787.02L59.19 789.32L57.31 789.73L56.39 791.43ZM60.71 785.84L64.22 788.73L62.3 788.84L61.13 790.37ZM63.45 786.33L67.16 788.96L65.25 789.21L64.19 790.82ZM70.6 784.74L73.44 788.3L71.54 788.01L70.08 789.26ZM73.96 784.81L76.86 788.32L74.96 788.06L73.52 789.34ZM78.03 784.68L80.8 788.28L78.91 787.96L77.42 789.19ZM76.24 787.48L80.28 789.57L78.43 790.08L77.6 791.82ZM78.93 788.3L83.14 790.03L81.34 790.7L80.67 792.51ZM82.19 788.65L86.45 790.24L84.67 790.97L84.07 792.8ZM85.29 789.2L89.64 790.56L87.9 791.39L87.39 793.24ZM88.58 789.58L92.97 790.79L91.26 791.67L90.81 793.55ZM91.88 789.97L96.31 791.02L94.63 791.97L94.25 793.86ZM105.33 784.28L107.51 788.27L105.69 787.66L104.03 788.64ZM108.93 784.28L111.11 788.27L109.28 787.66L107.63 788.64ZM122.6 787.17L121.4 791.55L120.51 789.85L118.64 789.4ZM112.79 785.04L115.87 788.39L113.95 788.24L112.58 789.59ZM114.17 786.08L117.78 788.84L115.87 789.02L114.75 790.59ZM120.43 784.89L123.4 788.34L121.49 788.12L120.07 789.42ZM120.32 786.73L124.17 789.17L122.27 789.52L121.3 791.18ZM123.33 787.17L127.29 789.4L125.42 789.85L124.53 791.55ZM126.54 787.48L130.58 789.57L128.73 790.08L127.9 791.82ZM129.23 788.3L133.44 790.03L131.64 790.7L130.96 792.51ZM130.6 791.2L135.11 791.78L133.54 792.9L133.36 794.82ZM132.79 794.58L137.3 793.97L136.08 795.46L136.4 797.35ZM135.92 798.69L140.05 796.79L139.32 798.57L140.18 800.29ZM139.81 801.11L143.55 798.53L143.13 800.4L144.28 801.95ZM143.57 801.82L147.18 799.05L146.86 800.94L148.08 802.43ZM165.48 785.04L165.68 789.59L164.31 788.24L162.4 788.39ZM157.92 785.73L161.39 788.67L159.47 788.76L158.27 790.26ZM163.09 785.04L166.17 788.39L164.25 788.24L162.88 789.59ZM165.55 785.51L168.91 788.58L166.99 788.59L165.74 790.06ZM167.64 786.33L171.35 788.96L169.44 789.21L168.38 790.82ZM169.28 787.8L173.39 789.75L171.56 790.32L170.79 792.09ZM170.12 791.2L174.63 791.78L173.06 792.9L172.88 794.82ZM172.05 795.77L176.49 794.77L175.4 796.36L175.88 798.22ZM175.57 800.15L179.48 797.83L178.93 799.68L179.97 801.3ZM179.44 801.59L183.09 798.87L182.74 800.76L183.94 802.27ZM190.7 810.89L190.89 806.34L192.14 807.81L194.06 807.82ZM202.64 811.99L200.19 808.16L202.05 808.64L203.63 807.55ZM191.68 791.2L196.19 791.78L194.62 792.9L194.44 794.82ZM196.67 789.2L201.01 790.56L199.27 791.39L198.76 793.24ZM200.91 788.47L205.15 790.13L203.36 790.84L202.72 792.65ZM203.7 789.39L208.06 790.67L206.34 791.53L205.86 793.39ZM206.7 790.17L211.15 791.15L209.49 792.12L209.14 794.01ZM209.52 791.41L214.04 791.92L212.49 793.06L212.34 794.98ZM214.03 789.97L218.46 791.02L216.78 791.97L216.4 793.86ZM217.21 790.58L221.68 791.39L220.06 792.43L219.78 794.33ZM218.55 798.69L222.69 796.79L221.95 798.57L222.81 800.29ZM236.13 812.2L234.38 808L236.13 808.8L237.88 808ZM240.95 784.25L242.32 788.59L240.65 787.64L238.84 788.28ZM230.16 793.41L234.71 793.2L233.36 794.57L233.51 796.49ZM250.3 784.62L250.98 789.11L249.48 787.91L247.59 788.27ZM237.82 792.28L242.36 792.47L240.9 793.72L240.88 795.64ZM240.94 793.41L245.49 793.2L244.14 794.57L244.29 796.49ZM244.05 795.05L248.54 794.29L247.36 795.82L247.75 797.7ZM248.13 793.41L252.67 793.2L251.32 794.57L251.48 796.49ZM256.85 786.73L260.69 789.17L258.8 789.52L257.82 791.18ZM274.39 785.51L274.2 790.06L272.95 788.59L271.02 788.58ZM266.14 785.51L269.51 788.58L267.58 788.59L266.33 790.06ZM270.87 785.04L273.95 788.39L272.03 788.24L270.66 789.59ZM273.33 785.51L276.69 788.58L274.77 788.59L273.52 790.06ZM280.41 784.41L282.86 788.24L281 787.76L279.41 788.85ZM290.06 784.68L290.66 789.19L289.18 787.96L287.28 788.28ZM284.11 785.51L287.47 788.58L285.55 788.59L284.3 790.06ZM291.19 784.41L293.64 788.24L291.78 787.76L290.19 788.85ZM289.18 786.73L293.02 789.17L291.13 789.52L290.16 791.18ZM292.77 786.73L296.62 789.17L294.72 789.52L293.75 791.18ZM296.37 786.73L300.21 789.17L298.32 789.52L297.34 791.18ZM299.76 786.87L303.64 789.24L301.76 789.62L300.81 791.3ZM303.16 787.02L307.08 789.32L305.2 789.73L304.29 791.43ZM306.55 787.17L310.52 789.4L308.65 789.85L307.76 791.55ZM310.15 787.17L314.11 789.4L312.24 789.85L311.35 791.55ZM313.93 787.02L317.86 789.32L315.98 789.73L315.06 791.43ZM317.92 786.73L321.76 789.17L319.87 789.52L318.9 791.18ZM322.54 786.08L326.16 788.84L324.24 789.02L323.13 790.59ZM324.14 787.48L328.18 789.57L326.32 790.08L325.5 791.82ZM324.61 791.2L329.12 791.78L327.55 792.9L327.37 794.82ZM333.32 786.08L336.94 788.84L335.02 789.02L333.91 790.59ZM338.67 785.22L341.87 788.46L339.94 788.37L338.62 789.77ZM341.59 785.51L344.95 788.58L343.03 788.59L341.78 790.06ZM338.98 791.2L343.49 791.78L341.92 792.9L341.74 794.82ZM340.75 796.98L345.08 795.6L344.13 797.28L344.78 799.09ZM344.29 797.71L348.55 796.11L347.69 797.83L348.43 799.61ZM347.88 798.2L352.08 796.45L351.28 798.2L352.08 799.95ZM351.48 797.71L355.74 796.11L354.88 797.83L355.62 799.61ZM355.1 797.22L359.41 795.77L358.49 797.46L359.17 799.26ZM358.67 797.71L362.92 796.11L362.06 797.83L362.8 799.61ZM376.25 784.2L378 788.4L376.25 787.6L374.5 788.4ZM371.22 787.17L375.19 789.4L373.32 789.85L372.43 791.55ZM373.03 788.83L377.32 790.34L375.56 791.11L374.98 792.94ZM375.29 790.58L379.76 791.39L378.14 792.43L377.86 794.33ZM378.5 791.2L383.01 791.78L381.44 792.9L381.26 794.82ZM381.85 791.63L386.38 792.05L384.85 793.22L384.74 795.14ZM385.02 792.51L389.56 792.62L388.12 793.89L388.14 795.81ZM388.08 793.87L392.62 793.51L391.32 794.92L391.54 796.84ZM391.2 795.77L395.64 794.77L394.55 796.36L395.04 798.22ZM394.58 798.2L398.78 796.45L397.98 798.2L398.78 799.95ZM398.48 801.11L402.23 798.53L401.81 800.4L402.95 801.95ZM402.13 801.35L405.83 798.7L405.44 800.58L406.61 802.11ZM410.74 787.17L414.71 789.4L412.84 789.85L411.95 791.55ZM413.96 787.48L418 789.57L416.14 790.08L415.31 791.82ZM417.18 787.8L421.29 789.75L419.45 790.32L418.69 792.09ZM420.77 787.8L424.88 789.75L423.05 790.32L422.28 792.09ZM424.36 787.8L428.48 789.75L426.64 790.32L425.87 792.09ZM428.33 787.48L432.37 789.57L430.51 790.08L429.69 791.82ZM435.9 785.13L439.04 788.42L437.12 788.3L435.77 789.68ZM439.72 785.04L442.8 788.39L440.89 788.24L439.51 789.59ZM443.78 784.89L446.74 788.34L444.83 788.12L443.41 789.42ZM454.61 784.51L455.45 788.98L453.9 787.83L452.02 788.25ZM441.59 801.11L445.34 798.53L444.92 800.4L446.07 801.95ZM445.36 801.82L448.96 799.05L448.64 800.94L449.87 802.43ZM456.56 785.51L459.92 788.58L457.99 788.59L456.75 790.06ZM455.66 788.83L459.95 790.34L458.19 791.11L457.61 792.94ZM464.19 785.31L467.44 788.5L465.52 788.44L464.22 789.86ZM467.56 785.41L470.86 788.54L468.94 788.52L467.67 789.96ZM470.93 785.51L474.29 788.58L472.36 788.59L471.12 790.06ZM474.52 785.51L477.88 788.58L475.96 788.59L474.71 790.06ZM477.89 785.62L481.31 788.62L479.38 788.67L478.16 790.16ZM481.71 785.51L485.07 788.58L483.14 788.59L481.9 790.06ZM485.52 785.41L488.83 788.54L486.9 788.52L485.63 789.96ZM494.32 784.21L496.22 788.34L494.44 787.61L492.72 788.47ZM498.4 784.2L500.15 788.4L498.4 787.6L496.65 788.4ZM501.99 784.2L503.74 788.4L501.99 787.6L500.24 788.4ZM505.1 784.21L506.99 788.34L505.22 787.61L503.5 788.47ZM503.93 785.22L507.13 788.46L505.21 788.37L503.89 789.77ZM507.08 785.41L510.38 788.54L508.46 788.52L507.19 789.96ZM510.23 785.62L513.64 788.62L511.72 788.67L510.5 790.16ZM513.38 785.84L516.9 788.73L514.98 788.84L513.81 790.37ZM516.55 786.08L520.17 788.84L518.25 789.02L517.13 790.59ZM519.11 786.73L522.95 789.17L521.06 789.52L520.09 791.18ZM521.37 787.8L525.48 789.75L523.64 790.32L522.88 792.09ZM523.76 789.02L528.08 790.45L526.33 791.25L525.78 793.09ZM526.05 790.78L530.54 791.52L528.93 792.58L528.68 794.49ZM538.13 784.62L540.84 788.27L538.95 787.91L537.44 789.11ZM543.4 784.3L545.65 788.26L543.81 787.68L542.17 788.69ZM546.27 784.41L548.72 788.24L546.86 787.76L545.27 788.85ZM547.96 784.89L550.93 788.34L549.02 788.12L547.6 789.42ZM550.64 785.22L553.84 788.46L551.91 788.37L550.59 789.77ZM553.78 785.41L557.09 788.54L555.17 788.52L553.89 789.96ZM557.15 785.51L560.51 788.58L558.59 788.59L557.34 790.06ZM560.31 785.73L563.77 788.67L561.85 788.76L560.65 790.26ZM563.25 786.08L566.87 788.84L564.95 789.02L563.84 790.59ZM568.6 785.22L571.8 788.46L569.88 788.37L568.55 789.77ZM572.2 785.22L575.39 788.46L573.47 788.37L572.15 789.77ZM575.34 785.41L578.65 788.54L576.72 788.52L575.45 789.96ZM578.49 785.62L581.9 788.62L579.98 788.67L578.76 790.16ZM581.65 785.84L585.16 788.73L583.24 788.84L582.07 790.37ZM584.39 786.33L588.1 788.96L586.19 789.21L585.13 790.82ZM586.78 787.17L590.75 789.4L588.88 789.85L587.99 791.55ZM589.63 787.8L593.74 789.75L591.9 790.32L591.14 792.09ZM592.69 788.3L596.9 790.03L595.09 790.7L594.42 792.51ZM595.78 788.83L600.07 790.34L598.3 791.11L597.73 792.94ZM599.05 789.2L603.39 790.56L601.65 791.39L601.14 793.24ZM602.33 789.58L606.72 790.79L605.01 791.67L604.57 793.55ZM605.63 789.97L610.06 791.02L608.38 791.97L608 793.86ZM609.23 789.97L613.65 791.02L611.98 791.97L611.6 793.86ZM611.46 804.12L614.52 800.76L614.54 802.68L616 803.93ZM616.71 806.82L618.94 802.85L619.38 804.73L621.09 805.61ZM619.21 805.2L621.97 801.58L622.15 803.5L623.72 804.62ZM621.77 793.41L626.31 793.2L624.96 794.57L625.12 796.49ZM626.39 791.2L630.9 791.78L629.34 792.9L629.15 794.82ZM630.64 790.17L635.08 791.15L633.43 792.12L633.08 794.01ZM634.37 789.97L638.8 791.02L637.13 791.97L636.74 793.86ZM637.17 791.2L641.68 791.78L640.11 792.9L639.93 794.82ZM638.99 799.91L642.95 797.66L642.37 799.49L643.37 801.13ZM643.32 802.99L646.67 799.91L646.52 801.83L647.87 803.2ZM649.67 807.57L651.62 803.46L652.19 805.29L653.96 806.06ZM655.05 809.23L656.25 804.85L657.14 806.55L659.01 807ZM660.68 810.56L661.11 806.03L662.28 807.56L664.2 807.67ZM665.61 811.18L665.56 806.63L666.88 808.03L668.8 807.94ZM670.82 811.72L670.22 807.21L671.7 808.44L673.6 808.12ZM664.04 798.69L668.18 796.79L667.44 798.57L668.3 800.29ZM667.66 799.18L671.73 797.14L671.05 798.94L671.97 800.63ZM682.31 784.51L684.89 788.25L683.02 787.83L681.47 788.98ZM676.34 791.84L680.88 792.19L679.37 793.39L679.29 795.31ZM683.04 787.8L687.15 789.75L685.31 790.32L684.55 792.09ZM682.05 796.98L686.39 795.6L685.44 797.28L686.08 799.09ZM685.73 800.15L689.64 797.83L689.09 799.68L690.13 801.3ZM696.4 810.44L696.9 805.92L698.05 807.47L699.96 807.62ZM704.83 812.06L703.68 807.66L705.3 808.7L707.15 808.15ZM710.37 812.2L708.62 808L710.37 808.8L712.12 808ZM725.14 806.63L720.74 805.5L722.43 804.58L722.84 802.7ZM727.45 808.1L723.25 806.37L725.05 805.7L725.72 803.89ZM707.99 793.41L712.54 793.2L711.19 794.57L711.34 796.49ZM712.62 791.2L717.13 791.78L715.56 792.9L715.38 794.82ZM717.01 789.97L721.43 791.02L719.76 791.97L719.38 793.86ZM720.32 790.37L724.78 791.27L723.14 792.27L722.82 794.17ZM723.65 790.78L728.13 791.52L726.53 792.58L726.28 794.49ZM727.78 789.97L732.21 791.02L730.54 791.97L730.15 793.86ZM731.1 790.37L735.56 791.27L733.92 792.27L733.6 794.17Z" fill="#000"/>
</g>
<rect x="56.5" y="63.5" width="688" height="75" fill="none" stroke="#000" stroke-width="1.1"/>
<rect x="56.5" y="206.5" width="688" height="76" fill="none" stroke="#000" stroke-width="1.1"/>
<rect x="56.5" y="350.5" width="688" height="75" fill="none" stroke="#000" stroke-width="1.1"/>
<rect x="56.5" y="493.5" width="688" height="75" fill="none" stroke="#000" stroke-width="1.1"/>
<rect x="56.5" y="636.5" width="688" height="76" fill="none" stroke="#000" stroke-width="1.1"/>
<rect x="56.5" y="780.5" width="688" height="75" fill="none" stroke="#000" stroke-width="1.1"/>
<rect x="65" y="47" width="19" height="7" fill="#00f" fill-opacity="1" shape-rendering="crispEdges"/>
<text x="91.9" y="53.5" font-size="10.12" fill="#000" textLength="42.32" lengthAdjust="spacingAndGlyphs">Prec. 1hr</text>
<rect x="65" y="190" width="19" height="7" fill="#00f" fill-opacity="0.25" shape-rendering="crispEdges"/>
<text x="91.9" y="196.5" font-size="10.12" fill="#000" textLength="18.66" lengthAdjust="spacingAndGlyphs">Alta</text>
<rect x="131" y="190" width="19" height="7" fill="#008000" fill-opacity="0.5" shape-rendering="crispEdges"/>
<text x="157.9" y="196.5" font-size="10.12" fill="#000" textLength="28.5" lengthAdjust="spacingAndGlyphs">Média</text>
<rect x="207" y="190" width="19" height="7" fill="#f00" fill-opacity="0.5" shape-rendering="crispEdges"/>
<text x="233.9" y="196.5" font-size="10.12" fill="#000" textLength="26.41" lengthAdjust="spacingAndGlyphs">Baixa</text>
<path d="M64.8 767.5H84.1" stroke="#f00" stroke-width="1.25" stroke-dasharray="4.6 2.0" fill="none"/>
<text x="91.9" y="770.5" font-size="10.12" fill="#000" textLength="32.51" lengthAdjust="spacingAndGlyphs">Rajada</text>
<path d="M144.9 767.5H164.4" stroke="#000" stroke-width="1.25" fill="none"/>
<text x="172" y="770.5" font-size="10.12" fill="#000" textLength="27.16" lengthAdjust="spacingAndGlyphs">Vento</text>
</svg></body></html>
